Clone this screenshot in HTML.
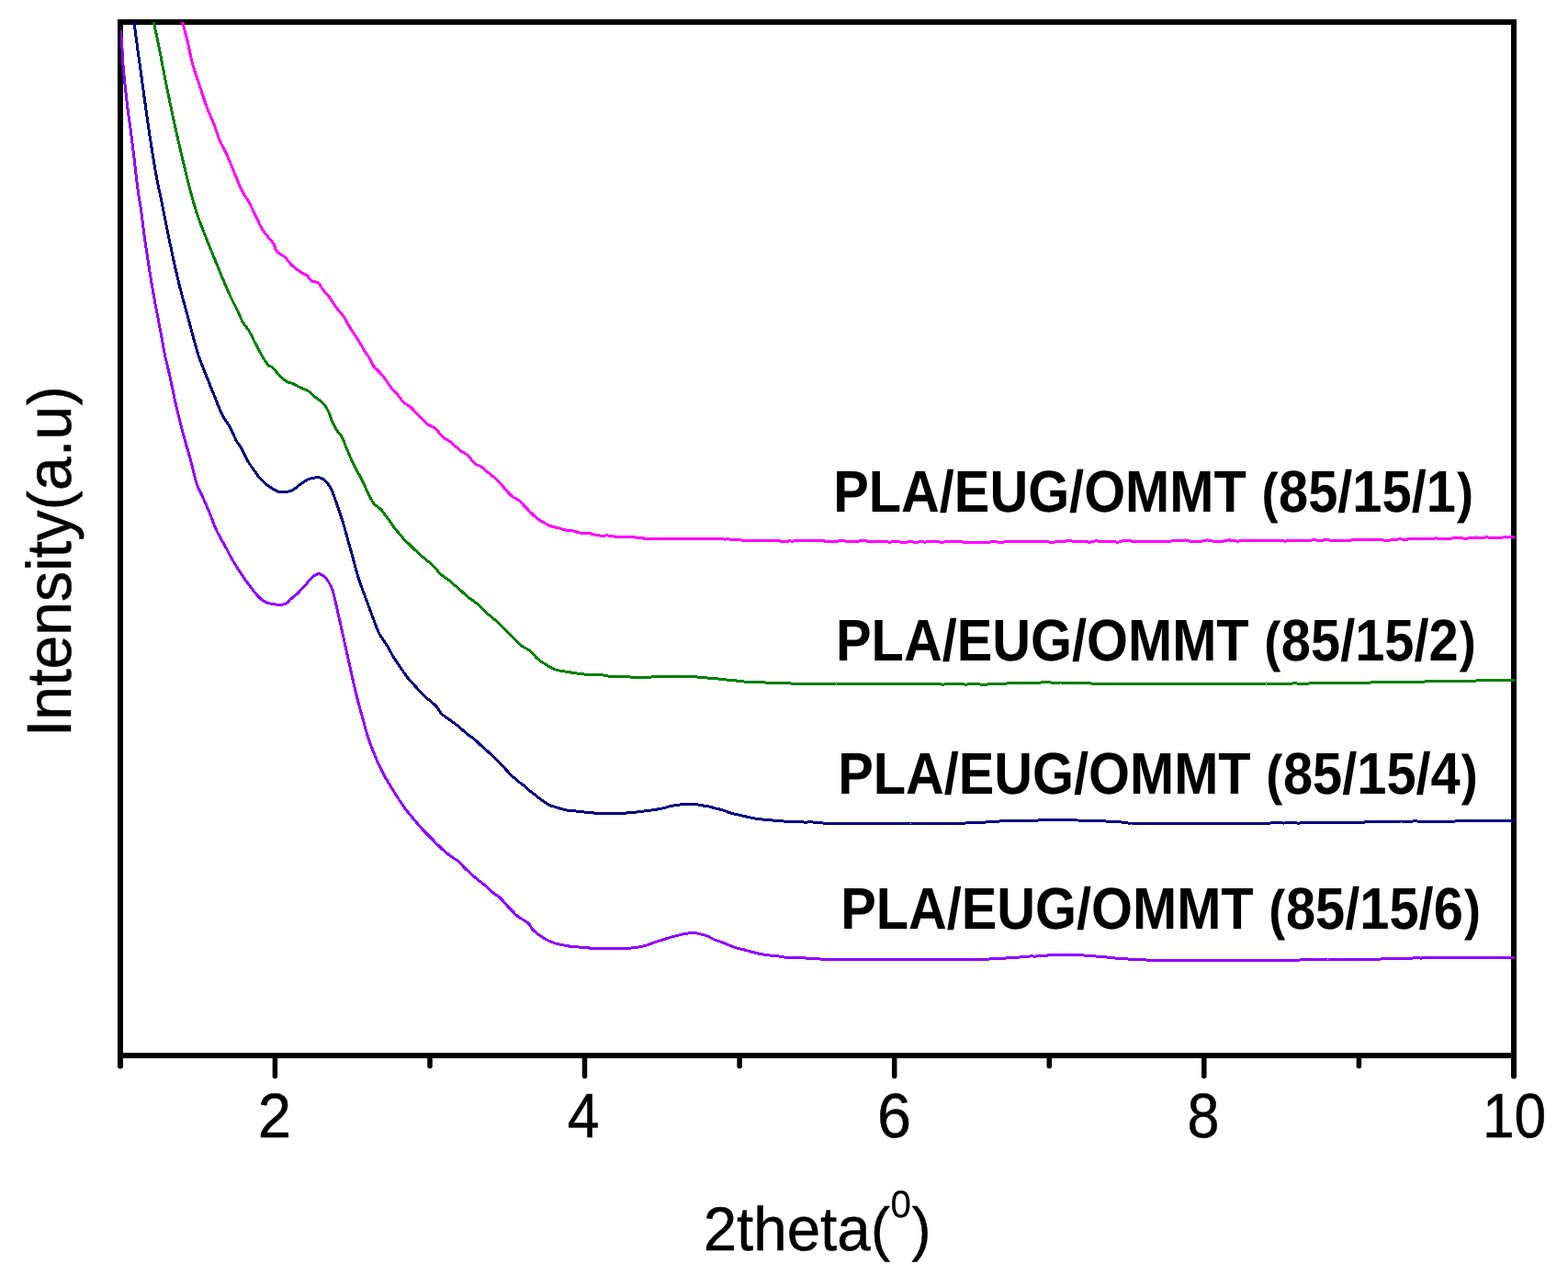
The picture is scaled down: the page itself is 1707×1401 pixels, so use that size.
<!DOCTYPE html>
<html lang="en">
<head>
<meta charset="utf-8">
<title>XRD patterns of PLA/EUG/OMMT</title>
<style>
html,body{margin:0;padding:0;background:#fff;}
body{width:1707px;height:1401px;overflow:hidden;}
svg{display:block;}
text{font-family:"Liberation Sans",sans-serif;fill:#000;font-kerning:none;text-rendering:geometricPrecision;stroke:#000;stroke-width:0.5px;stroke-linejoin:round;}
.axis text{font-size:68.4px;}
.axis text.ylab{font-size:68.4px;}
.axis text.xlab{font-size:67.4px;}
.legend text{font-size:64px;font-weight:bold;stroke-width:0px;}
.curves polyline{fill:none;stroke-width:3.0px;stroke-linejoin:round;}
</style>
</head>
<body>
<svg width="1707" height="1401" viewBox="0 0 1707 1401">
<rect x="0" y="0" width="1707" height="1401" fill="#ffffff"/>
<defs><clipPath id="plot"><rect x="131" y="24" width="1518" height="1125"/></clipPath></defs>
<g class="frame" fill="none" stroke="#000" stroke-width="6" shape-rendering="crispEdges">
<rect x="131" y="24" width="1517" height="1125"/>
</g>
<g class="ticks" stroke="#000" stroke-width="5.5" stroke-linecap="round">
<line x1="131" y1="1149" x2="131" y2="1160.4" stroke-width="6"/>
<line x1="299.4" y1="1149" x2="299.4" y2="1171.4"/>
<line x1="468.0" y1="1149" x2="468.0" y2="1160.4"/>
<line x1="636.5" y1="1149" x2="636.5" y2="1171.4"/>
<line x1="805.1" y1="1149" x2="805.1" y2="1160.4"/>
<line x1="973.7" y1="1149" x2="973.7" y2="1171.4"/>
<line x1="1142.3" y1="1149" x2="1142.3" y2="1160.4"/>
<line x1="1310.8" y1="1149" x2="1310.8" y2="1171.4"/>
<line x1="1479.4" y1="1149" x2="1479.4" y2="1160.4"/>
<line x1="1648" y1="1149" x2="1648" y2="1171.4" stroke-width="6"/>
</g>
<g class="curves" clip-path="url(#plot)" shape-rendering="crispEdges">
<polyline points="198.0,21.8 198.2,22.4 198.3,22.9 198.5,23.5 198.7,24.2 198.9,25.1 199.2,26.1 199.5,27.3 199.9,28.7 200.3,30.1 200.7,31.6 201.1,33.2 201.6,34.9 202.0,36.6 202.4,38.3 202.9,40.0 203.3,41.6 203.7,43.2 204.0,44.6 204.4,46.0 204.7,47.4 205.0,48.9 205.4,50.4 205.7,52.0 206.0,53.6 206.4,55.2 206.7,56.8 207.0,58.4 207.4,60.0 207.7,61.6 208.1,63.1 208.5,64.7 208.8,66.2 209.2,67.8 209.6,69.2 210.0,70.8 210.5,72.3 210.9,73.8 211.3,75.3 211.8,76.8 212.2,78.2 212.7,79.6 213.2,81.0 213.6,82.3 214.1,83.7 214.6,85.1 215.1,86.6 215.6,88.0 216.1,89.5 216.6,91.0 217.1,92.4 217.5,93.8 218.0,95.2 218.5,96.6 219.0,98.2 219.5,99.7 220.0,101.3 220.5,102.8 221.0,104.4 221.5,106.0 222.0,107.5 222.5,109.1 223.0,110.6 223.5,112.1 224.0,113.6 224.6,115.0 225.1,116.5 225.6,117.9 226.2,119.4 226.8,120.8 227.4,122.3 228.0,123.7 228.6,125.2 229.3,126.6 229.9,128.1 230.5,129.5 231.1,131.0 231.7,132.4 232.3,133.8 232.9,135.3 233.5,136.7 234.0,138.1 234.5,139.5 235.1,141.1 235.6,142.6 236.1,144.1 236.5,145.5 237.0,146.9 237.4,148.2 237.9,149.6 238.4,151.0 238.9,152.4 239.5,153.7 240.1,155.0 240.7,156.2 241.3,157.5 242.0,158.7 242.7,160.1 243.4,161.4 244.1,162.8 244.8,164.2 245.5,165.6 246.2,166.9 246.8,168.4 247.5,169.8 248.1,171.1 248.7,172.5 249.3,173.9 249.8,175.2 250.4,176.6 251.0,178.0 251.5,179.3 252.1,180.7 252.7,182.1 253.2,183.5 253.8,184.9 254.3,186.3 254.9,187.7 255.5,189.0 256.1,190.5 256.7,191.9 257.3,193.4 257.9,194.9 258.5,196.4 259.1,197.8 259.7,199.3 260.3,200.7 260.9,202.1 261.5,203.5 262.1,204.9 262.8,206.2 263.4,207.5 264.1,208.8 264.8,210.1 265.5,211.4 266.3,212.6 267.0,213.7 267.8,214.7 268.5,215.8 269.2,216.9 270.0,218.1 270.7,219.4 271.4,220.7 272.1,222.0 272.8,223.4 273.4,224.8 274.1,226.2 274.8,227.6 275.4,229.0 276.1,230.5 276.7,231.9 277.4,233.3 278.0,234.7 278.7,236.0 279.4,237.4 280.1,238.8 280.8,240.3 281.5,241.7 282.1,243.2 282.8,244.6 283.5,245.9 284.2,247.2 285.0,248.5 285.7,249.8 286.5,251.0 287.3,252.2 288.2,253.4 289.2,254.6 290.3,255.9 291.4,257.3 292.5,258.7 293.6,259.9 294.6,261.1 295.6,262.3 296.5,263.4 297.3,264.5 298.0,265.8 298.6,267.1 299.0,268.4 299.5,269.7 299.9,271.0 300.5,272.2 301.3,273.4 302.3,274.5 303.4,275.5 304.7,276.4 306.0,277.3 307.4,278.1 308.7,278.8 310.0,279.7 311.2,280.9 312.2,282.1 313.2,283.3 314.1,284.5 315.0,285.6 315.9,286.8 316.8,287.8 317.7,288.7 318.7,289.6 319.8,290.4 321.0,291.5 322.3,292.5 323.5,293.5 324.8,294.4 326.0,295.3 327.2,296.1 328.6,297.0 330.1,297.8 331.5,298.4 332.8,299.1 334.1,299.9 335.2,301.1 336.1,302.4 337.0,303.7 338.0,304.9 339.1,305.9 340.4,306.5 341.8,306.6 343.3,306.7 344.8,307.2 346.1,307.9 347.1,308.8 348.0,309.8 348.8,311.0 349.6,312.3 350.4,313.6 351.2,314.8 352.1,316.0 353.0,317.1 354.0,318.2 355.0,319.3 356.0,320.4 357.0,321.5 358.0,322.8 359.0,324.2 359.9,325.5 360.8,326.8 361.7,328.2 362.6,329.5 363.4,330.9 364.3,332.2 365.2,333.5 366.1,334.7 367.0,335.9 368.0,337.2 369.0,338.4 370.0,339.6 371.1,340.8 372.1,342.0 373.0,343.2 374.0,344.6 374.8,345.7 375.5,346.9 376.2,348.1 376.9,349.4 377.5,350.7 378.2,351.8 378.9,353.0 379.6,354.2 380.3,355.3 381.0,356.5 381.8,357.9 382.7,359.3 383.5,360.6 384.4,361.9 385.3,363.1 386.2,364.4 387.0,365.6 387.9,366.9 388.6,368.0 389.4,369.1 390.1,370.3 390.8,371.6 391.6,372.9 392.3,374.2 393.0,375.5 393.8,376.7 394.5,378.1 395.2,379.4 395.9,380.6 396.8,382.1 397.7,383.5 398.6,384.6 399.4,385.8 400.3,386.9 401.1,388.1 401.9,389.5 402.6,390.9 403.3,392.3 404.0,393.7 404.6,395.0 405.3,396.3 406.1,397.7 406.9,398.9 407.8,400.0 408.7,400.9 409.7,401.8 410.7,402.7 411.8,403.7 412.8,404.8 413.8,405.9 414.8,407.0 415.8,408.2 416.8,409.3 417.7,410.5 418.7,411.8 419.6,413.1 420.6,414.4 421.5,415.7 422.4,417.1 423.3,418.5 424.2,419.9 425.1,421.0 426.0,422.2 427.0,423.4 428.0,424.5 428.9,425.3 429.8,426.2 430.8,427.1 431.7,428.2 432.7,429.5 433.8,430.8 434.8,432.2 435.8,433.6 436.9,435.0 437.9,436.3 439.0,437.4 440.1,438.5 441.2,439.5 442.4,440.2 443.5,440.9 444.7,441.6 445.8,442.4 446.9,443.1 447.9,443.9 449.0,445.0 450.0,446.2 451.0,447.3 451.9,448.4 452.9,449.5 453.8,450.6 454.8,451.7 455.9,452.7 456.9,453.7 458.0,454.7 459.1,455.7 460.2,456.8 461.3,457.8 462.5,458.9 463.6,460.0 464.7,461.0 465.8,461.9 467.2,462.9 468.6,463.7 469.9,464.3 471.3,465.0 472.6,465.7 473.8,466.5 474.9,467.5 475.9,468.6 476.8,469.7 477.7,470.8 478.7,472.0 479.8,473.3 480.9,474.3 482.1,475.4 483.3,476.5 484.6,477.5 485.9,478.3 487.2,479.0 488.4,479.7 489.7,480.5 491.0,481.3 492.2,482.4 493.5,483.7 494.8,485.0 496.0,486.2 497.3,487.2 498.5,488.3 499.7,489.3 500.9,490.3 502.0,491.2 503.2,491.8 504.3,492.4 505.4,493.0 506.5,493.7 507.6,494.4 508.6,495.2 509.6,496.1 510.6,497.1 511.5,498.1 512.5,499.4 513.5,500.7 514.5,502.0 515.6,503.3 516.8,504.4 518.0,505.4 519.3,506.1 520.6,506.6 521.9,507.0 523.2,507.7 524.4,508.5 525.6,509.3 526.8,510.4 527.9,511.5 529.0,512.6 530.1,513.4 531.2,514.3 532.3,515.2 533.5,516.2 534.6,517.1 535.7,518.0 536.9,518.9 538.1,519.8 539.2,520.7 540.4,521.7 541.5,522.7 542.5,523.7 543.6,524.8 544.6,526.0 545.6,527.3 546.6,528.4 547.5,529.5 548.5,530.6 549.5,531.8 550.5,532.9 551.4,534.0 552.4,535.2 553.3,536.3 554.3,537.3 555.4,538.3 556.4,539.3 557.5,540.3 558.7,541.2 559.9,541.9 561.1,542.5 562.4,543.0 563.7,543.9 565.0,544.8 566.2,545.8 567.4,547.0 568.5,548.2 569.5,549.4 570.5,550.4 571.5,551.4 572.5,552.4 573.4,553.4 574.4,554.5 575.4,555.6 576.5,556.7 577.6,557.8 578.8,558.9 579.9,560.0 581.0,561.0 582.2,562.1 583.3,563.1 584.4,563.9 585.6,564.8 586.7,565.6 587.8,566.4 589.0,567.2 590.1,567.9 591.3,568.5 592.6,569.2 593.9,569.9 595.3,570.7 596.6,571.4 597.9,572.1 599.3,572.7 600.6,573.1 601.9,573.5 603.2,573.8 604.5,574.0 605.9,574.2 607.3,574.6 608.7,575.0 610.1,575.4 611.6,575.9 613.1,576.4 614.6,576.8 616.2,577.2 617.7,577.4 619.2,577.5 620.7,577.6 622.2,577.7 623.7,577.9 625.2,578.4 626.7,578.8 628.2,579.3 629.7,579.7 631.2,580.0 632.7,580.3 634.1,580.5 635.6,580.5 637.0,580.5 638.5,580.4 640.0,580.3 641.5,580.6 643.1,580.8 644.6,581.3 646.1,581.8 647.7,582.2 649.3,582.3 650.9,582.6 652.5,582.9 654.2,583.1 655.8,583.2 657.4,583.2 659.0,583.0 660.5,582.8 661.9,583.0 663.4,583.2 664.8,583.4 666.3,583.7 667.7,583.9 669.2,584.1 670.6,584.2 672.1,584.4 673.5,584.5 675.0,584.6 676.6,584.6 678.2,584.6 679.7,584.6 681.3,584.5 682.9,584.4 684.5,584.3 686.1,584.5 687.7,584.7 689.3,584.8 690.9,584.9 692.4,585.1 693.8,585.3 695.3,585.4 696.8,585.5 698.2,585.7 699.7,585.9 701.2,586.1 702.7,586.3 704.2,586.4 705.7,586.4 707.3,586.4 708.8,586.4 710.3,586.4 711.8,586.4 713.3,586.4 714.7,586.3 716.2,586.3 717.7,586.2 719.2,586.2 720.8,586.3 722.3,586.3 723.9,586.3 725.5,586.4 727.1,586.5 728.8,586.6 730.2,586.6 731.7,586.6 733.2,586.6 734.7,586.5 736.2,586.4 737.8,586.2 739.3,586.4 740.9,586.6 742.5,586.4 744.1,586.3 745.7,586.2 747.3,586.1 749.0,586.1 750.6,586.2 752.2,586.3 753.8,586.3 755.4,586.3 757.0,586.4 758.6,586.4 760.2,586.3 761.8,586.2 763.4,586.1 765.0,586.0 766.6,586.1 768.2,586.3 769.8,586.6 771.5,587.0 773.1,586.8 774.7,586.7 776.3,586.5 777.9,586.3 779.5,586.3 781.1,586.4 782.7,586.4 784.2,586.4 785.8,586.6 787.4,587.0 788.9,587.1 790.5,586.9 792.0,586.7 793.6,587.0 795.2,587.2 796.7,587.3 798.2,587.4 799.8,587.3 801.3,587.1 802.8,587.2 804.3,587.5 805.8,587.8 807.3,588.1 808.8,588.3 810.3,588.3 811.8,588.3 813.3,588.4 814.8,588.4 816.4,588.5 818.1,588.6 819.7,588.6 821.3,588.5 822.9,588.5 824.5,588.5 826.1,588.5 827.7,588.4 829.3,588.5 830.9,588.5 832.5,588.5 834.1,588.4 835.6,588.3 837.2,588.4 838.7,588.6 840.3,588.5 841.7,588.4 843.1,588.3 844.5,588.3 845.8,588.3 847.2,588.5 848.6,588.8 850.0,589.1 851.5,589.4 853.1,589.6 854.8,589.5 856.6,589.3 858.6,589.0 859.6,588.9 860.7,589.0 861.8,589.0 862.9,589.1 864.1,589.0 865.3,588.9 866.5,588.9 867.8,588.9 869.1,588.9 870.4,588.8 871.7,588.8 873.1,588.7 874.5,588.4 876.0,588.2 877.4,588.4 878.9,588.6 880.4,588.7 881.9,588.6 883.5,588.6 885.0,588.5 886.6,588.5 888.2,588.3 889.8,588.2 891.5,588.2 893.1,588.3 894.8,588.5 896.5,588.7 898.2,589.2 899.9,589.6 901.6,589.7 903.3,589.8 905.1,589.6 906.8,589.5 908.6,589.5 910.3,589.4 912.1,589.1 913.8,588.8 915.6,588.6 917.4,588.6 919.1,588.9 920.9,589.1 922.7,589.3 924.4,589.3 926.2,589.2 927.9,589.2 929.7,589.3 931.4,589.4 933.2,589.4 934.9,589.1 936.6,588.8 938.4,588.7 940.1,588.6 941.7,588.8 943.4,589.0 945.1,589.0 946.7,589.1 948.4,589.2 950.0,589.3 951.6,589.5 953.1,589.8 954.7,589.9 956.2,590.0 957.8,589.9 959.3,589.7 960.9,589.6 962.5,589.7 964.0,589.8 965.6,589.9 967.2,590.0 968.8,590.0 970.3,590.0 971.9,589.9 973.5,589.9 975.1,589.8 976.7,589.6 978.2,589.7 979.8,589.9 981.4,590.2 983.0,590.4 984.6,590.4 986.2,590.2 987.8,590.0 989.4,589.8 990.9,589.6 992.5,589.8 994.1,590.0 995.7,590.1 997.3,590.3 998.9,590.1 1000.5,590.0 1002.1,589.9 1003.7,589.8 1005.3,589.9 1006.9,590.1 1008.5,590.0 1010.1,589.7 1011.7,589.7 1013.3,589.8 1014.9,589.8 1016.5,589.8 1018.1,589.7 1019.7,589.6 1021.3,589.6 1022.9,590.0 1024.5,590.2 1026.1,590.2 1027.7,590.1 1029.3,589.9 1030.9,589.6 1032.5,589.8 1034.1,589.9 1035.7,589.9 1037.3,589.7 1038.9,589.5 1040.5,589.2 1042.1,589.2 1043.6,589.4 1045.2,589.6 1046.8,589.9 1048.4,590.1 1050.0,590.2 1051.6,590.3 1053.2,590.2 1054.8,590.2 1056.3,590.1 1057.9,590.1 1059.5,590.1 1061.1,590.1 1062.7,590.1 1064.2,590.1 1065.8,590.2 1067.4,590.4 1069.0,590.4 1070.6,590.3 1072.1,590.2 1073.7,590.2 1075.3,590.1 1076.9,590.1 1078.4,590.0 1080.0,589.8 1081.6,589.5 1083.2,589.6 1084.7,589.7 1086.3,590.0 1087.9,590.3 1089.5,590.3 1091.0,590.2 1092.6,590.1 1094.2,589.9 1095.8,589.8 1097.3,589.9 1098.9,589.8 1100.5,589.8 1102.1,589.7 1103.6,589.7 1105.2,589.7 1106.8,589.7 1108.4,589.6 1110.0,589.6 1111.6,589.6 1113.1,589.5 1114.7,589.4 1116.3,589.5 1117.9,589.8 1119.5,589.8 1121.1,589.6 1122.7,589.4 1124.3,589.1 1125.9,589.0 1127.5,589.2 1129.1,589.3 1130.7,589.4 1132.3,589.5 1133.9,589.4 1135.5,589.4 1137.1,589.3 1138.7,589.2 1140.3,589.5 1141.9,589.9 1143.5,590.3 1145.1,590.7 1146.8,590.4 1148.4,589.8 1150.0,589.5 1151.6,589.4 1153.1,589.4 1154.7,589.4 1156.3,589.4 1157.8,589.3 1159.4,589.2 1161.0,588.9 1162.5,588.6 1164.1,588.7 1165.7,588.8 1167.3,589.1 1168.9,589.4 1170.5,589.5 1172.1,589.6 1173.7,589.7 1175.3,589.8 1176.9,589.8 1178.5,589.5 1180.1,589.4 1181.7,589.6 1183.3,589.8 1184.9,590.1 1186.5,590.3 1188.1,589.7 1189.7,589.3 1191.3,589.1 1192.9,588.8 1194.5,589.0 1196.1,589.1 1197.7,589.2 1199.4,589.3 1201.0,589.4 1202.6,589.5 1204.2,589.5 1205.8,589.3 1207.4,589.2 1209.0,589.0 1210.6,589.1 1212.3,589.4 1213.9,589.7 1215.5,590.1 1217.1,590.2 1218.7,589.9 1220.3,589.5 1221.9,588.8 1223.5,588.3 1225.1,588.5 1226.7,588.6 1228.3,588.7 1229.9,588.8 1231.5,589.0 1233.1,589.2 1234.7,589.3 1236.3,589.3 1237.9,589.6 1239.5,589.8 1241.1,589.9 1242.7,589.8 1244.3,589.7 1245.9,589.6 1247.5,589.5 1249.0,589.3 1250.6,589.2 1252.2,589.1 1253.7,589.1 1255.3,589.2 1256.9,589.3 1258.4,589.4 1260.0,589.6 1261.6,589.5 1263.2,589.3 1264.9,589.2 1266.5,589.1 1268.1,589.2 1269.7,589.4 1271.3,589.4 1272.9,589.2 1274.5,589.1 1276.1,588.9 1277.7,588.8 1279.3,588.7 1280.9,588.5 1282.5,588.5 1284.1,588.5 1285.7,588.4 1287.3,588.2 1288.9,588.1 1290.5,587.9 1292.1,588.4 1293.7,588.9 1295.3,589.1 1296.9,589.2 1298.4,589.1 1300.0,589.1 1301.6,589.1 1303.2,589.2 1304.8,589.3 1306.4,589.2 1307.9,589.2 1309.5,588.9 1311.1,588.7 1312.7,588.3 1314.2,587.9 1315.8,588.2 1317.4,588.5 1319.0,588.8 1320.5,589.1 1322.1,589.4 1323.7,589.6 1325.3,589.8 1326.8,589.9 1328.4,589.8 1330.0,589.6 1331.6,589.3 1333.1,588.7 1334.7,588.2 1336.3,588.1 1337.9,587.9 1339.4,588.3 1341.0,588.7 1342.6,588.8 1344.2,588.9 1345.8,589.0 1347.3,589.1 1348.9,589.0 1350.5,588.9 1352.1,588.8 1353.7,588.7 1355.2,588.5 1356.8,588.4 1358.4,588.3 1360.0,588.4 1361.6,588.6 1363.2,588.6 1364.8,588.6 1366.3,588.7 1367.9,588.8 1369.5,588.8 1371.1,588.8 1372.7,588.8 1374.3,588.7 1375.9,588.7 1377.5,588.7 1379.0,588.7 1380.6,588.7 1382.2,588.8 1383.8,588.8 1385.4,588.9 1387.0,588.8 1388.6,588.8 1390.2,588.5 1391.7,588.3 1393.3,588.4 1394.9,588.4 1396.5,588.7 1398.1,589.0 1399.7,589.0 1401.3,588.8 1402.9,588.8 1404.4,588.8 1406.0,588.8 1407.6,588.7 1409.2,588.6 1410.8,588.3 1412.4,588.1 1414.0,588.1 1415.6,588.1 1417.1,588.2 1418.7,588.3 1420.3,588.4 1421.9,588.5 1423.5,588.5 1425.1,588.4 1426.7,588.2 1428.3,587.9 1429.8,587.8 1431.4,587.9 1433.0,588.0 1434.6,588.2 1436.2,588.4 1437.8,588.4 1439.4,588.4 1441.0,587.9 1442.5,587.6 1444.1,587.8 1445.7,587.9 1447.3,588.0 1448.9,588.0 1450.5,588.1 1452.1,588.1 1453.7,588.1 1455.2,588.0 1456.8,588.1 1458.4,588.2 1460.0,588.4 1461.6,588.5 1463.2,588.6 1464.8,588.4 1466.4,588.3 1468.0,588.2 1469.5,588.1 1471.1,588.0 1472.7,587.9 1474.3,587.8 1475.9,587.7 1477.5,587.7 1479.1,587.8 1480.7,587.8 1482.3,587.6 1483.9,587.5 1485.5,587.4 1487.1,587.4 1488.7,587.4 1490.3,587.5 1491.9,587.5 1493.5,587.6 1495.1,587.7 1496.7,587.7 1498.3,587.6 1499.9,587.5 1501.5,587.4 1503.1,587.4 1504.7,587.7 1506.3,588.0 1507.9,588.0 1509.5,588.0 1511.1,588.0 1512.7,588.0 1514.3,587.8 1515.9,587.7 1517.5,587.5 1519.1,587.2 1520.7,587.1 1522.3,587.0 1523.9,586.9 1525.5,587.0 1527.1,587.1 1528.6,587.2 1530.2,587.3 1531.8,587.1 1533.4,586.9 1535.0,586.6 1536.6,586.4 1538.1,586.4 1539.7,586.4 1541.3,586.4 1542.9,586.3 1544.4,586.3 1546.0,586.4 1547.6,586.4 1549.1,586.2 1550.7,586.1 1552.2,586.0 1553.8,586.0 1555.4,586.2 1556.9,586.4 1558.5,586.4 1560.0,586.3 1561.6,586.1 1563.2,585.9 1564.8,586.2 1566.5,586.6 1568.1,586.8 1569.7,587.0 1571.3,586.9 1572.9,586.4 1574.5,586.3 1576.1,586.5 1577.7,586.5 1579.3,586.3 1580.8,586.0 1582.4,585.9 1584.0,585.8 1585.6,585.8 1587.2,585.7 1588.8,585.7 1590.4,585.6 1591.9,585.8 1593.5,586.2 1595.1,586.2 1596.7,586.2 1598.2,586.0 1599.8,585.7 1601.4,585.5 1602.9,585.4 1604.5,585.3 1606.1,585.2 1607.6,585.0 1609.2,585.2 1610.8,585.4 1612.3,585.5 1613.9,585.6 1615.5,585.4 1617.0,585.0 1618.6,584.9 1620.2,585.0 1621.7,585.2 1623.3,585.4 1624.9,585.6 1626.4,585.7 1628.0,585.9 1629.6,585.9 1631.1,585.8 1632.7,585.5 1634.3,585.1 1635.8,585.0 1637.4,584.9 1639.0,584.9 1640.5,585.0 1642.1,585.0 1643.7,584.9 1645.3,584.9 1646.8,584.9 1648.4,585.0 1650.0,585.2" stroke="#ff00ff"/>
<polyline points="167.0,21.9 167.1,22.4 167.2,22.9 167.3,23.5 167.4,24.3 167.6,25.1 167.7,26.0 168.0,27.1 168.2,28.3 168.5,29.7 168.8,31.1 169.2,32.7 169.5,34.3 169.9,36.0 170.2,37.7 170.6,39.4 171.0,41.2 171.4,43.0 171.7,44.8 172.1,46.6 172.5,48.3 172.8,50.0 173.1,51.4 173.4,52.9 173.7,54.4 174.0,55.9 174.3,57.5 174.6,59.0 174.9,60.6 175.2,62.2 175.5,63.7 175.8,65.3 176.1,66.9 176.4,68.5 176.7,70.1 177.0,71.7 177.3,73.3 177.6,74.9 178.0,76.5 178.3,78.1 178.6,79.7 178.9,81.3 179.2,82.8 179.5,84.4 179.8,85.9 180.1,87.5 180.4,89.0 180.7,90.6 181.0,92.1 181.4,93.7 181.7,95.2 182.0,96.7 182.3,98.3 182.6,99.8 182.9,101.4 183.2,102.9 183.5,104.4 183.9,106.0 184.2,107.5 184.5,109.0 184.8,110.5 185.1,112.1 185.4,113.6 185.7,115.1 186.1,116.6 186.4,118.2 186.7,119.7 187.0,121.2 187.4,122.8 187.7,124.3 188.0,125.9 188.3,127.4 188.7,128.9 189.0,130.5 189.3,132.0 189.7,133.5 190.0,135.0 190.3,136.5 190.7,138.1 191.0,139.6 191.3,141.1 191.7,142.6 192.0,144.1 192.3,145.6 192.7,147.1 193.0,148.6 193.4,150.0 193.7,151.5 194.0,153.0 194.4,154.5 194.7,156.0 195.1,157.5 195.4,159.0 195.8,160.5 196.1,162.0 196.5,163.5 196.8,165.0 197.2,166.5 197.5,168.0 197.9,169.5 198.2,171.0 198.6,172.5 198.9,173.9 199.3,175.4 199.6,176.9 200.0,178.4 200.3,179.9 200.7,181.3 201.1,182.9 201.5,184.5 201.8,186.1 202.2,187.6 202.6,189.2 203.0,190.7 203.3,192.3 203.7,193.9 204.1,195.4 204.5,197.0 204.9,198.5 205.2,200.0 205.6,201.6 206.0,203.1 206.4,204.6 206.8,206.1 207.2,207.6 207.6,209.1 208.0,210.6 208.4,212.2 208.9,213.7 209.3,215.2 209.7,216.7 210.1,218.2 210.5,219.7 210.9,221.2 211.4,222.7 211.8,224.1 212.3,225.6 212.7,227.1 213.2,228.6 213.6,230.1 214.1,231.5 214.6,233.0 215.1,234.4 215.6,235.9 216.1,237.3 216.6,238.8 217.1,240.2 217.6,241.7 218.2,243.1 218.7,244.5 219.3,245.9 219.8,247.3 220.4,248.7 220.9,250.1 221.5,251.5 222.0,252.9 222.5,254.3 223.1,255.7 223.6,257.0 224.2,258.5 224.8,260.0 225.3,261.5 225.9,263.0 226.5,264.4 227.1,265.8 227.6,267.2 228.2,268.6 228.8,270.0 229.4,271.4 229.9,272.8 230.5,274.1 231.0,275.5 231.6,276.9 232.2,278.3 232.8,279.8 233.4,281.2 234.0,282.7 234.6,284.1 235.1,285.6 235.7,287.0 236.3,288.4 236.9,289.8 237.4,291.2 238.0,292.6 238.5,293.9 239.1,295.3 239.6,296.7 240.2,298.0 240.7,299.3 241.3,300.6 241.8,301.8 242.3,303.2 242.9,304.5 243.5,305.9 244.1,307.3 244.7,308.7 245.3,310.1 245.9,311.6 246.6,313.1 247.2,314.6 247.9,316.0 248.5,317.5 249.2,319.0 249.8,320.5 250.5,321.9 251.2,323.4 251.9,324.8 252.6,326.2 253.3,327.6 254.0,329.0 254.7,330.5 255.4,331.9 256.1,333.2 256.8,334.6 257.5,336.0 258.1,337.3 258.8,338.7 259.4,340.0 260.0,341.4 260.6,342.8 261.2,344.2 261.8,345.6 262.4,346.9 263.1,348.3 263.7,349.6 264.4,350.8 265.2,352.2 266.1,353.5 267.0,354.7 267.9,355.8 268.8,357.0 269.7,358.2 270.6,359.4 271.4,360.8 272.1,362.1 272.9,363.4 273.6,364.8 274.3,366.2 275.0,367.7 275.6,369.1 276.3,370.5 277.0,371.9 277.7,373.3 278.4,374.6 279.1,375.9 279.8,377.2 280.4,378.5 281.1,379.8 281.8,381.1 282.5,382.3 283.2,383.6 283.9,384.9 284.6,386.2 285.3,387.5 286.1,388.9 287.0,390.3 287.9,391.8 288.8,393.2 289.7,394.6 290.6,395.8 291.4,396.8 292.3,397.6 293.3,398.3 294.3,398.7 295.3,399.1 296.3,399.7 297.2,400.5 298.2,401.6 299.2,402.7 300.1,404.0 301.2,405.2 302.2,406.4 303.3,407.5 304.3,408.6 305.4,409.7 306.5,410.8 307.7,411.9 308.8,412.9 309.9,413.9 311.1,414.7 312.2,415.4 313.6,416.0 315.0,416.5 316.4,416.8 317.8,417.2 319.2,417.8 320.5,418.4 321.8,419.2 323.2,420.0 324.5,420.7 325.9,421.4 327.2,422.0 328.5,422.6 329.8,423.1 331.2,423.6 332.5,424.2 333.8,424.8 335.1,425.4 336.3,426.2 337.4,427.1 338.6,428.0 339.7,429.1 340.8,430.1 342.0,431.2 343.1,432.2 344.3,433.2 345.4,434.0 346.6,434.9 347.8,435.7 349.0,436.5 350.1,437.4 351.1,438.3 352.1,439.4 353.0,440.5 353.9,441.7 354.8,443.0 355.6,444.4 356.4,445.7 357.1,447.1 357.8,448.5 358.3,449.9 358.9,451.4 359.4,452.8 359.9,454.3 360.4,455.8 361.0,457.2 361.6,458.7 362.3,460.1 363.0,461.6 363.7,463.1 364.4,464.5 365.2,465.9 366.0,467.3 366.8,468.5 367.7,469.7 368.6,470.8 369.5,471.9 370.4,473.0 371.2,474.2 372.0,475.5 372.6,476.7 373.2,477.9 373.8,479.2 374.3,480.5 374.9,481.9 375.4,483.2 375.9,484.6 376.4,485.9 377.0,487.3 377.6,488.7 378.1,490.0 378.7,491.4 379.3,492.8 379.9,494.3 380.5,495.7 381.1,497.1 381.7,498.4 382.3,499.8 382.9,501.1 383.5,502.4 384.2,503.8 384.9,505.1 385.5,506.4 386.2,507.7 386.9,509.0 387.5,510.3 388.2,511.7 388.9,513.0 389.6,514.4 390.4,515.9 391.2,517.2 391.9,518.6 392.7,520.0 393.4,521.4 394.2,522.8 394.9,524.2 395.6,525.6 396.2,527.0 396.9,528.5 397.5,529.9 398.2,531.4 398.8,532.9 399.5,534.3 400.2,535.7 400.9,537.1 401.6,538.5 402.3,540.0 403.1,541.4 403.8,542.8 404.6,544.2 405.3,545.5 406.1,546.8 406.9,548.0 407.8,549.0 408.9,550.1 410.1,551.0 411.3,551.8 412.5,552.7 413.7,553.7 414.8,554.8 415.8,555.9 416.8,557.2 417.7,558.4 418.6,559.6 419.6,560.9 420.5,562.2 421.5,563.5 422.3,564.6 423.1,565.7 424.0,566.8 424.8,568.0 425.6,569.3 426.5,570.5 427.3,571.8 428.2,573.0 429.1,574.2 430.0,575.3 430.9,576.5 431.9,577.7 432.9,578.9 433.9,580.1 434.9,581.3 435.9,582.5 436.9,583.7 437.9,584.8 438.9,586.0 439.9,587.1 440.9,588.2 442.0,589.2 443.0,590.2 444.1,591.2 445.1,592.2 446.2,593.3 447.3,594.4 448.4,595.5 449.5,596.5 450.5,597.5 451.6,598.5 452.7,599.5 453.7,600.4 454.8,601.4 455.9,602.4 457.1,603.4 458.2,604.4 459.2,605.4 460.3,606.3 461.4,607.2 462.6,608.2 463.8,609.3 465.0,610.3 466.2,611.2 467.3,612.2 468.5,613.2 469.6,614.1 470.7,615.0 471.8,616.0 472.9,617.1 473.9,618.2 474.9,619.4 475.8,620.6 476.8,621.8 477.7,622.9 478.7,624.0 479.8,625.1 480.9,626.1 482.1,627.0 483.2,627.9 484.4,628.8 485.7,629.7 486.9,630.5 488.1,631.3 489.3,632.2 490.4,633.1 491.6,634.1 492.8,635.1 493.9,636.1 495.1,637.2 496.3,638.2 497.4,639.2 498.6,640.3 499.7,641.2 500.8,642.1 501.9,643.1 503.1,644.1 504.2,645.1 505.3,646.2 506.4,647.1 507.4,648.1 508.5,649.0 509.6,650.0 510.8,650.9 511.9,651.8 513.0,652.5 514.2,653.3 515.3,654.0 516.4,654.8 517.6,655.7 518.7,656.6 519.8,657.5 520.9,658.5 522.0,659.5 523.1,660.5 524.2,661.6 525.4,662.7 526.5,663.8 527.6,664.9 528.7,666.0 529.9,667.1 531.0,668.2 532.2,669.2 533.4,670.2 534.5,671.2 535.6,672.0 536.6,672.9 537.5,673.7 538.7,674.7 539.7,675.5 540.7,676.4 541.9,677.5 542.8,678.4 543.9,679.4 545.0,680.5 546.1,681.7 547.3,683.0 548.4,684.2 549.6,685.4 550.8,686.5 551.9,687.6 553.0,688.6 554.1,689.7 555.3,690.9 556.4,692.0 557.6,693.2 558.7,694.3 559.8,695.3 560.8,696.3 561.8,697.3 562.9,698.3 563.8,699.3 564.8,700.2 565.7,701.2 566.7,702.1 567.8,703.0 569.0,703.9 570.2,704.7 571.5,705.3 572.9,706.0 574.2,706.6 575.5,707.4 576.8,708.2 578.0,709.2 579.1,710.3 580.2,711.5 581.3,712.8 582.4,714.1 583.4,715.3 584.6,716.5 585.7,717.5 586.9,718.5 588.2,719.5 589.4,720.3 590.7,721.2 592.0,722.0 593.3,722.9 594.7,723.7 596.0,724.5 597.3,725.3 598.7,726.1 600.1,726.8 601.5,727.5 602.9,728.1 604.3,728.7 605.7,729.3 607.1,729.6 608.5,729.9 609.9,730.1 611.3,730.3 612.7,730.6 614.1,730.8 615.6,731.2 617.0,731.4 618.5,731.7 620.0,731.9 621.5,732.0 623.0,732.2 624.6,732.5 626.1,732.7 627.6,733.0 629.1,733.2 630.5,733.4 632.0,733.6 633.4,733.8 634.9,733.9 636.4,734.1 637.9,734.3 639.5,734.4 640.9,734.5 642.3,734.5 643.8,734.5 645.4,734.5 646.9,734.4 648.5,734.5 650.0,734.6 651.5,734.7 652.9,734.8 654.2,734.9 655.5,734.9 656.9,735.0 658.2,735.3 659.4,735.5 660.7,735.8 662.0,736.0 663.4,736.2 664.6,736.3 666.0,736.4 667.4,736.4 668.8,736.5 670.3,736.5 671.8,736.6 673.3,736.7 674.9,736.8 676.4,736.9 677.9,736.9 679.4,736.9 681.0,736.9 682.6,736.9 684.2,736.9 685.8,737.0 687.4,737.1 688.9,737.2 690.5,737.3 692.1,737.4 693.7,737.5 695.3,737.5 696.9,737.5 698.5,737.4 700.0,737.4 701.6,737.4 703.2,737.4 704.8,737.3 706.4,737.2 708.0,737.1 709.6,736.9 711.2,736.8 712.7,736.8 714.2,736.8 715.7,736.7 717.2,736.6 718.7,736.4 720.3,736.3 721.8,736.3 723.3,736.3 724.8,736.4 726.3,736.5 727.8,736.7 729.2,736.5 730.8,736.3 732.4,736.2 734.0,736.1 735.5,736.2 737.0,736.3 738.5,736.4 740.0,736.6 741.6,736.7 743.1,736.6 744.7,736.6 746.2,736.6 747.8,736.6 749.3,736.5 750.9,736.5 752.4,736.5 754.0,736.6 755.5,736.7 757.1,736.9 758.6,737.0 760.2,737.1 761.7,737.2 763.3,737.3 764.8,737.4 766.4,737.6 767.9,737.8 769.5,737.9 771.0,738.1 772.5,738.2 774.1,738.3 775.6,738.4 777.2,738.5 778.7,738.7 780.3,738.8 781.8,739.0 783.4,739.1 784.9,739.3 786.5,739.5 788.0,739.7 789.6,739.9 791.1,740.0 792.7,740.1 794.2,740.3 795.8,740.4 797.3,740.5 798.9,740.6 800.4,740.8 802.0,741.1 803.5,741.4 805.1,741.7 806.6,741.8 808.2,741.9 809.7,742.0 811.3,742.2 812.8,742.3 814.4,742.4 815.9,742.5 817.5,742.5 819.1,742.6 820.7,742.6 822.2,742.6 823.8,742.6 825.3,742.6 826.8,742.6 828.3,742.7 829.8,742.8 831.2,742.9 832.6,743.0 834.1,743.1 835.5,743.2 837.1,743.2 838.7,743.3 840.0,743.3 841.3,743.4 842.6,743.5 843.9,743.6 845.3,743.7 846.7,743.8 848.1,743.9 849.6,743.9 851.2,743.9 852.9,743.9 854.6,743.8 856.6,743.8 858.6,743.9 859.6,743.9 860.6,744.0 861.7,744.0 862.8,744.0 863.9,744.1 865.0,744.1 866.2,744.2 867.4,744.2 868.7,744.3 870.0,744.3 871.3,744.2 872.6,744.1 873.9,744.1 875.3,744.1 876.7,744.0 878.1,744.0 879.6,744.0 881.1,744.0 882.5,744.0 884.1,744.1 885.6,744.1 887.1,744.2 888.7,744.3 890.3,744.4 891.9,744.3 893.5,744.3 895.2,744.3 896.8,744.3 898.5,744.4 900.2,744.4 901.9,744.3 903.6,744.2 905.3,744.3 907.0,744.4 908.8,744.4 910.5,744.5 912.3,744.4 914.0,744.4 915.8,744.3 917.6,744.3 919.3,744.3 921.1,744.3 922.9,744.3 924.7,744.3 926.5,744.3 928.3,744.2 930.1,744.0 931.9,744.1 933.7,744.2 935.5,744.3 937.3,744.3 939.0,744.2 940.8,744.2 942.6,744.1 944.4,744.1 946.2,744.2 947.9,744.2 949.7,744.3 951.4,744.4 953.2,744.5 954.9,744.6 956.6,744.6 958.3,744.5 960.0,744.4 961.5,744.3 963.0,744.2 964.6,744.2 966.2,744.2 967.8,744.3 969.4,744.3 971.0,744.4 972.7,744.5 974.4,744.6 976.1,744.7 977.8,744.7 979.6,744.7 981.4,744.7 983.1,744.8 984.9,744.9 986.8,744.9 988.6,744.8 990.4,744.7 992.3,744.6 994.1,744.5 996.0,744.5 997.9,744.5 999.8,744.5 1001.6,744.6 1003.5,744.7 1005.4,744.8 1007.4,744.8 1009.3,744.9 1011.2,744.9 1013.1,744.8 1015.0,744.7 1016.9,744.6 1018.8,744.6 1020.7,744.8 1022.7,744.9 1024.6,745.0 1026.5,745.0 1028.3,745.0 1030.2,744.8 1032.1,744.7 1034.0,744.7 1035.8,744.7 1037.7,744.8 1039.5,744.7 1041.3,744.7 1043.1,744.6 1044.9,744.6 1046.7,744.7 1048.5,744.8 1050.2,745.0 1051.9,745.1 1053.6,745.0 1055.3,744.8 1057.0,744.8 1058.6,744.7 1060.3,744.7 1061.9,744.8 1063.4,744.9 1065.0,744.9 1066.5,745.0 1068.0,745.1 1069.5,745.1 1070.9,745.1 1072.3,745.0 1073.7,745.0 1075.0,745.0 1076.3,744.9 1077.6,744.9 1078.8,744.8 1080.0,744.8 1081.2,744.7 1082.3,744.7 1083.4,744.6 1084.5,744.6 1085.5,744.5 1086.5,744.5 1087.4,744.5 1088.3,744.4 1089.1,744.5 1089.9,744.5 1090.6,744.6 1091.3,744.6 1092.0,744.6 1093.8,744.4 1095.1,744.2 1096.1,744.0 1097.1,743.9 1098.3,743.8 1100.0,743.6 1100.8,743.5 1101.7,743.4 1102.7,743.4 1103.7,743.3 1104.9,743.3 1106.1,743.3 1107.4,743.2 1108.7,743.1 1110.2,743.1 1111.7,743.0 1113.2,743.0 1114.8,743.1 1116.5,743.1 1118.2,743.2 1119.9,743.2 1121.7,743.2 1123.5,743.2 1125.4,743.2 1127.3,743.2 1129.2,743.2 1131.1,743.1 1133.1,743.0 1135.0,742.9 1137.0,742.8 1139.0,742.7 1141.0,742.8 1143.0,742.9 1145.0,743.1 1147.0,743.1 1148.9,743.1 1150.9,743.1 1152.8,743.1 1154.7,743.0 1156.6,743.0 1158.5,743.0 1160.3,743.1 1162.1,743.3 1163.8,743.3 1165.5,743.3 1167.2,743.3 1168.8,743.4 1170.3,743.4 1171.8,743.4 1173.3,743.3 1174.6,743.2 1175.9,743.2 1177.1,743.2 1178.3,743.1 1179.3,743.1 1180.3,743.2 1181.2,743.2 1182.0,743.3 1183.7,743.5 1185.0,743.5 1186.0,743.7 1187.1,743.8 1188.3,744.0 1190.0,744.2 1190.8,744.3 1191.7,744.5 1192.7,744.6 1193.7,744.7 1194.7,744.7 1195.8,744.8 1197.0,744.8 1198.2,744.8 1199.4,744.8 1200.7,744.8 1202.1,744.8 1203.4,744.7 1204.9,744.7 1206.3,744.7 1207.8,744.8 1209.3,744.8 1210.9,744.8 1212.5,744.8 1214.1,744.7 1215.8,744.7 1217.5,744.7 1219.2,744.7 1220.9,744.6 1222.7,744.4 1224.4,744.5 1226.2,744.6 1228.0,744.6 1229.9,744.6 1231.7,744.6 1233.6,744.7 1235.4,744.7 1237.3,744.7 1239.2,744.5 1241.1,744.5 1243.0,744.6 1244.9,744.6 1246.8,744.6 1248.7,744.5 1250.6,744.4 1252.5,744.3 1254.4,744.3 1256.3,744.3 1258.1,744.2 1260.0,744.1 1261.3,744.1 1262.7,744.2 1264.0,744.3 1265.4,744.3 1266.8,744.4 1268.2,744.3 1269.6,744.3 1271.0,744.3 1272.4,744.2 1273.9,744.2 1275.4,744.2 1276.8,744.3 1278.3,744.4 1279.8,744.6 1281.3,744.6 1282.8,744.6 1284.4,744.6 1285.9,744.5 1287.5,744.4 1289.0,744.3 1290.6,744.3 1292.2,744.3 1293.8,744.4 1295.4,744.4 1297.0,744.4 1298.6,744.3 1300.2,744.3 1301.8,744.3 1303.4,744.3 1305.1,744.4 1306.7,744.5 1308.4,744.5 1310.0,744.5 1311.7,744.4 1313.3,744.2 1315.0,744.2 1316.7,744.4 1318.4,744.4 1320.0,744.5 1321.7,744.5 1323.4,744.5 1325.1,744.5 1326.8,744.5 1328.5,744.5 1330.2,744.5 1331.9,744.5 1333.5,744.5 1335.2,744.4 1336.9,744.2 1338.6,744.2 1340.3,744.4 1342.0,744.5 1343.7,744.4 1345.4,744.3 1347.1,744.1 1348.8,744.0 1350.5,744.0 1352.2,744.0 1353.9,744.2 1355.5,744.3 1357.2,744.3 1358.9,744.3 1360.6,744.4 1362.2,744.4 1363.9,744.4 1365.5,744.4 1367.2,744.4 1368.8,744.4 1370.5,744.4 1372.1,744.5 1373.7,744.4 1375.3,744.4 1376.9,744.4 1378.5,744.5 1380.1,744.5 1381.7,744.5 1383.3,744.4 1384.9,744.4 1386.4,744.4 1388.0,744.4 1389.5,744.4 1391.0,744.4 1392.6,744.3 1394.1,744.2 1395.6,744.1 1397.1,744.1 1398.5,744.1 1400.0,744.1 1401.7,744.1 1403.4,744.1 1405.1,744.0 1406.8,744.0 1408.5,743.9 1410.2,743.9 1411.9,744.0 1413.6,744.0 1415.3,744.1 1416.9,744.1 1418.6,744.2 1420.3,744.2 1421.9,744.2 1423.6,744.1 1425.2,744.0 1426.9,743.9 1428.5,743.9 1430.1,743.8 1431.7,743.8 1433.4,743.8 1435.0,743.8 1436.6,743.8 1438.2,743.7 1439.8,743.6 1441.4,743.6 1443.0,743.6 1444.6,743.7 1446.2,743.8 1447.8,743.9 1449.4,743.9 1451.0,743.9 1452.5,743.8 1454.1,743.7 1455.7,743.5 1457.2,743.6 1458.8,743.6 1460.4,743.7 1461.9,743.7 1463.5,743.7 1465.0,743.6 1466.6,743.6 1468.1,743.5 1469.7,743.5 1471.2,743.5 1472.7,743.4 1474.3,743.5 1475.8,743.5 1477.3,743.6 1478.8,743.6 1480.4,743.6 1481.9,743.6 1483.4,743.6 1484.9,743.5 1486.4,743.4 1488.0,743.3 1489.5,743.2 1491.0,743.1 1492.5,743.0 1494.0,742.9 1495.5,742.9 1497.0,742.9 1498.5,742.9 1500.0,742.9 1501.7,742.8 1503.3,742.8 1504.9,742.8 1506.6,742.8 1508.2,742.8 1509.9,742.9 1511.5,742.8 1513.1,742.7 1514.7,742.7 1516.3,742.7 1517.9,742.6 1519.6,742.5 1521.2,742.6 1522.8,742.6 1524.3,742.7 1525.9,742.7 1527.5,742.7 1529.1,742.5 1530.7,742.5 1532.3,742.4 1533.8,742.4 1535.4,742.4 1537.0,742.4 1538.5,742.4 1540.1,742.3 1541.7,742.3 1543.2,742.3 1544.8,742.2 1546.3,742.1 1547.9,742.1 1549.4,742.0 1551.0,742.0 1552.5,741.9 1554.1,741.9 1555.6,741.8 1557.1,741.8 1558.7,741.7 1560.2,741.7 1561.7,741.8 1563.3,741.8 1564.8,741.8 1566.3,741.8 1567.8,741.7 1569.4,741.8 1570.9,741.8 1572.4,741.7 1573.9,741.7 1575.4,741.6 1577.0,741.5 1578.5,741.5 1580.0,741.5 1581.6,741.5 1583.3,741.4 1584.9,741.4 1586.5,741.4 1588.2,741.5 1589.8,741.5 1591.4,741.4 1593.0,741.3 1594.6,741.1 1596.2,741.0 1597.8,741.0 1599.4,741.0 1601.0,741.0 1602.6,741.2 1604.2,741.3 1605.8,741.1 1607.4,741.0 1609.0,740.9 1610.6,740.8 1612.1,740.8 1613.7,740.8 1615.3,740.8 1616.9,740.8 1618.4,740.7 1620.0,740.7 1621.6,740.6 1623.2,740.5 1624.7,740.4 1626.3,740.3 1627.9,740.2 1629.5,740.2 1631.0,740.2 1632.6,740.2 1634.2,740.2 1635.8,740.1 1637.3,740.1 1638.9,740.0 1640.5,740.0 1642.1,740.0 1643.7,740.1 1645.2,740.1 1646.8,740.2 1648.4,740.2 1650.0,740.2" stroke="#008000"/>
<polyline points="145.5,22.2 145.6,22.7 145.7,23.2 145.8,23.8 145.9,24.6 146.0,25.3 146.1,26.3 146.3,27.3 146.5,28.5 146.7,29.9 146.8,31.3 147.1,32.8 147.3,34.5 147.5,36.1 147.7,37.9 148.0,39.7 148.2,41.5 148.5,43.3 148.7,45.1 149.0,47.0 149.2,48.8 149.4,50.5 149.7,52.2 149.9,53.9 150.1,55.4 150.3,56.9 150.5,58.4 150.7,59.9 150.9,61.4 151.2,63.0 151.4,64.5 151.6,66.1 151.8,67.6 152.0,69.2 152.3,70.8 152.5,72.4 152.7,74.0 152.9,75.5 153.1,77.1 153.4,78.7 153.6,80.3 153.8,81.9 154.0,83.5 154.2,85.1 154.5,86.6 154.7,88.2 154.9,89.8 155.1,91.3 155.3,92.9 155.5,94.5 155.8,96.0 156.0,97.6 156.2,99.2 156.4,100.7 156.6,102.3 156.8,103.9 157.0,105.4 157.2,107.0 157.4,108.6 157.7,110.1 157.9,111.7 158.1,113.3 158.3,114.8 158.5,116.4 158.7,117.9 158.9,119.5 159.1,121.0 159.4,122.5 159.6,124.1 159.8,125.6 160.0,127.2 160.2,128.7 160.5,130.3 160.7,131.8 160.9,133.4 161.1,134.9 161.4,136.5 161.6,138.0 161.8,139.6 162.0,141.1 162.3,142.7 162.5,144.2 162.7,145.7 162.9,147.3 163.2,148.8 163.4,150.3 163.6,151.9 163.9,153.4 164.1,154.9 164.3,156.4 164.6,157.9 164.8,159.4 165.1,161.0 165.3,162.6 165.6,164.2 165.8,165.8 166.1,167.4 166.3,169.0 166.6,170.6 166.8,172.2 167.1,173.8 167.4,175.3 167.6,176.9 167.9,178.5 168.1,180.0 168.4,181.6 168.7,183.2 169.0,184.7 169.2,186.3 169.5,187.8 169.8,189.4 170.1,190.9 170.4,192.4 170.6,193.9 170.9,195.4 171.2,196.9 171.5,198.4 171.8,199.9 172.1,201.3 172.4,202.8 172.7,204.3 173.0,205.8 173.4,207.3 173.7,208.7 174.0,210.2 174.3,211.7 174.6,213.2 174.9,214.7 175.2,216.1 175.5,217.6 175.8,219.1 176.1,220.6 176.4,222.1 176.7,223.6 177.0,225.1 177.3,226.6 177.6,228.1 177.9,229.6 178.2,231.1 178.5,232.6 178.8,234.1 179.1,235.6 179.4,237.1 179.7,238.6 180.0,240.0 180.3,241.5 180.6,243.0 180.9,244.5 181.2,246.0 181.5,247.5 181.8,248.9 182.1,250.6 182.5,252.2 182.8,253.8 183.1,255.4 183.4,257.0 183.8,258.6 184.1,260.3 184.5,261.9 184.8,263.5 185.1,265.1 185.4,266.6 185.8,268.2 186.1,269.7 186.4,271.2 186.8,272.7 187.1,274.2 187.4,275.7 187.7,277.1 188.0,278.7 188.4,280.3 188.7,281.8 189.0,283.4 189.4,284.9 189.7,286.4 190.0,287.9 190.3,289.4 190.7,290.8 191.0,292.3 191.3,293.8 191.6,295.2 192.0,296.6 192.3,298.1 192.7,299.6 193.0,301.1 193.4,302.6 193.7,304.1 194.1,305.5 194.4,307.0 194.8,308.4 195.1,309.9 195.5,311.4 195.9,313.0 196.3,314.5 196.7,316.2 197.1,317.6 197.4,319.0 197.8,320.5 198.2,322.0 198.6,323.5 199.0,325.0 199.5,326.6 199.9,328.1 200.3,329.7 200.7,331.2 201.2,332.8 201.6,334.3 202.0,335.9 202.4,337.4 202.9,339.0 203.3,340.5 203.7,342.0 204.1,343.5 204.5,345.1 204.9,346.6 205.3,348.1 205.7,349.7 206.2,351.2 206.6,352.8 207.0,354.3 207.4,355.9 207.8,357.4 208.2,358.9 208.6,360.5 209.0,361.9 209.4,363.4 209.8,364.9 210.2,366.3 210.6,367.8 211.0,369.3 211.4,370.8 211.9,372.3 212.3,373.8 212.7,375.3 213.1,376.8 213.5,378.3 213.9,379.8 214.3,381.2 214.7,382.7 215.2,384.2 215.6,385.6 216.1,387.1 216.6,388.6 217.1,390.0 217.6,391.4 218.1,392.8 218.7,394.2 219.2,395.7 219.8,397.1 220.4,398.6 221.0,400.1 221.6,401.6 222.1,403.0 222.7,404.5 223.3,406.0 223.9,407.4 224.5,408.8 225.0,410.3 225.6,411.7 226.2,413.1 226.8,414.5 227.3,416.0 227.9,417.4 228.4,418.8 229.0,420.2 229.6,421.6 230.1,423.0 230.7,424.4 231.2,425.8 231.8,427.1 232.4,428.5 232.9,429.9 233.5,431.3 234.1,432.8 234.7,434.2 235.3,435.7 235.9,437.2 236.5,438.7 237.0,440.2 237.6,441.7 238.2,443.2 238.9,444.7 239.5,446.1 240.1,447.6 240.8,449.1 241.5,450.5 242.2,451.9 243.0,453.3 243.7,454.6 244.5,455.9 245.3,457.3 246.2,458.5 247.0,459.8 247.8,461.0 248.6,462.3 249.4,463.5 250.1,464.7 250.8,466.0 251.5,467.2 252.3,468.7 253.0,470.2 253.6,471.7 254.3,473.2 254.9,474.7 255.5,476.1 256.2,477.5 256.8,478.8 257.5,480.1 258.3,481.4 259.2,482.7 260.0,483.9 260.9,485.2 261.7,486.4 262.6,487.7 263.4,489.1 264.1,490.3 264.7,491.6 265.4,493.0 266.0,494.3 266.7,495.7 267.3,497.1 268.0,498.5 268.7,499.9 269.4,501.3 270.2,502.6 271.0,504.0 271.9,505.3 272.8,506.7 273.7,508.0 274.6,509.3 275.6,510.6 276.5,511.9 277.4,513.2 278.4,514.5 279.3,515.8 280.2,517.0 281.2,518.3 282.2,519.5 283.2,520.7 284.2,522.0 285.3,523.2 286.5,524.3 287.7,525.5 288.9,526.6 290.2,527.6 291.5,528.5 292.8,529.4 294.1,530.3 295.3,531.1 296.6,531.9 298.0,532.7 299.3,533.4 300.6,534.1 301.9,534.7 303.3,535.2 304.9,535.5 306.4,535.7 308.0,535.8 309.6,535.7 311.2,535.6 312.5,535.4 313.9,535.1 315.2,534.8 316.6,534.3 317.9,533.7 319.2,533.0 320.4,532.3 321.5,531.5 322.7,530.6 323.8,529.6 324.9,528.7 326.1,527.8 327.2,527.0 328.5,526.1 329.8,525.2 331.0,524.3 332.3,523.5 333.7,522.7 335.1,522.0 336.5,521.5 337.9,521.0 339.4,520.7 340.9,520.3 342.3,520.1 343.8,519.9 345.1,519.8 346.6,519.9 348.1,520.0 349.4,520.4 350.8,521.0 352.1,521.8 353.2,522.6 354.2,523.6 355.3,524.7 356.3,525.9 357.2,527.2 358.1,528.5 359.0,529.8 359.7,531.0 360.4,532.3 361.1,533.7 361.7,535.1 362.3,536.5 362.8,538.0 363.4,539.5 364.0,541.0 364.5,542.4 365.0,543.8 365.5,545.2 366.0,546.7 366.5,548.2 367.0,549.7 367.5,551.1 368.0,552.6 368.5,554.0 369.0,555.5 369.5,556.9 370.0,558.3 370.5,559.8 370.9,561.3 371.4,562.8 371.9,564.2 372.4,565.7 372.9,567.3 373.4,568.8 373.8,570.3 374.3,571.8 374.7,573.3 375.2,574.8 375.6,576.3 376.0,577.8 376.4,579.3 376.8,580.8 377.2,582.4 377.7,583.9 378.1,585.4 378.5,586.9 378.9,588.4 379.3,589.9 379.7,591.3 380.1,592.8 380.6,594.3 381.0,595.8 381.4,597.3 381.8,598.8 382.2,600.3 382.6,601.7 383.1,603.2 383.5,604.7 383.9,606.2 384.3,607.7 384.7,609.2 385.1,610.7 385.5,612.2 385.9,613.6 386.3,615.1 386.7,616.6 387.1,618.1 387.5,619.6 387.9,621.1 388.3,622.7 388.8,624.2 389.2,625.7 389.7,627.2 390.1,628.7 390.6,630.2 391.1,631.7 391.6,633.2 392.1,634.7 392.6,636.2 393.1,637.7 393.7,639.2 394.2,640.6 394.7,642.1 395.2,643.5 395.7,644.9 396.3,646.3 396.8,647.7 397.4,649.2 397.9,650.6 398.5,652.0 399.0,653.5 399.6,654.9 400.1,656.4 400.7,657.8 401.2,659.3 401.7,660.8 402.3,662.3 402.8,663.9 403.4,665.4 403.9,666.9 404.5,668.4 405.0,669.8 405.6,671.3 406.1,672.8 406.7,674.2 407.2,675.6 407.7,677.0 408.2,678.4 408.7,679.7 409.2,681.1 409.7,682.4 410.2,683.8 410.8,685.1 411.3,686.4 411.9,687.7 412.5,689.0 413.1,690.3 413.8,691.5 414.6,692.8 415.3,694.0 416.2,695.2 417.0,696.3 417.8,697.5 418.7,698.6 419.5,699.8 420.3,701.0 421.1,702.2 421.8,703.5 422.6,704.8 423.3,706.1 424.0,707.4 424.7,708.7 425.5,710.1 426.2,711.4 426.9,712.7 427.6,714.0 428.4,715.3 429.1,716.5 430.0,717.8 430.8,719.2 431.7,720.5 432.6,721.8 433.5,723.2 434.4,724.5 435.3,725.7 436.2,727.0 437.1,728.3 438.0,729.5 438.8,730.7 439.7,732.0 440.5,733.2 441.4,734.5 442.2,735.7 443.1,736.9 444.1,738.1 445.0,739.3 445.9,740.4 446.9,741.4 447.9,742.4 448.9,743.6 449.9,744.7 450.9,745.8 451.9,746.9 453.0,748.0 454.0,749.1 455.0,750.2 456.1,751.4 457.2,752.5 458.3,753.7 459.4,754.9 460.5,756.0 461.6,757.1 462.7,758.1 463.8,759.2 464.9,760.2 466.0,761.1 467.2,762.0 468.3,763.0 469.5,764.0 470.7,765.0 471.8,766.0 472.9,766.9 473.9,767.9 474.9,768.9 475.9,770.1 476.7,771.3 477.5,772.5 478.3,773.7 479.1,775.0 480.0,776.1 480.9,777.2 481.9,778.2 483.0,779.0 484.1,779.7 485.2,780.5 486.4,781.3 487.6,782.1 488.8,783.0 490.0,783.8 491.2,784.8 492.5,785.7 493.8,786.7 495.1,787.7 496.3,788.7 497.6,789.6 498.8,790.6 499.9,791.5 501.0,792.4 502.1,793.3 503.2,794.3 504.2,795.2 505.3,796.2 506.4,797.1 507.5,798.1 508.7,799.1 509.9,800.0 511.2,800.9 512.5,801.8 513.7,802.7 515.0,803.7 516.3,804.7 517.5,805.8 518.6,806.7 519.7,807.8 520.8,808.8 521.9,809.9 522.9,810.9 524.0,811.8 525.1,812.8 526.3,813.8 527.4,814.8 528.5,815.7 529.5,816.7 530.7,817.7 531.8,818.7 532.9,819.8 534.1,820.9 535.2,822.0 536.3,822.9 537.4,823.8 538.4,824.7 539.4,825.6 540.5,826.7 541.5,827.7 542.5,828.8 543.5,829.8 544.4,830.8 545.4,831.8 546.3,832.8 547.3,833.8 548.3,834.9 549.3,836.0 550.3,837.2 551.3,838.3 552.3,839.4 553.3,840.5 554.3,841.7 555.3,842.7 556.4,843.8 557.6,844.8 558.7,845.8 559.9,846.8 561.0,847.8 562.2,848.7 563.3,849.7 564.5,850.8 565.7,851.8 566.9,852.6 568.0,853.3 569.1,854.1 570.2,854.9 571.3,855.8 572.2,856.7 573.1,857.7 574.1,858.7 575.2,859.7 576.2,860.5 577.4,861.4 578.5,862.2 579.7,863.1 580.9,864.0 582.1,864.9 583.2,865.8 584.4,866.8 585.6,867.8 586.8,868.8 587.9,869.7 589.2,870.7 590.4,871.5 591.7,872.4 593.0,873.2 594.3,874.1 595.7,875.0 597.1,875.8 598.4,876.5 599.8,877.1 601.3,877.6 602.7,878.0 604.2,878.4 605.7,878.9 607.1,879.3 608.5,879.7 609.9,880.1 611.3,880.6 612.7,881.0 614.2,881.4 615.6,881.7 617.1,882.0 618.5,882.1 620.0,882.3 621.4,882.4 622.9,882.5 624.4,882.7 625.9,882.9 627.4,883.0 629.0,883.2 630.5,883.3 632.0,883.5 633.6,883.7 635.2,883.9 636.9,884.1 638.5,884.3 640.1,884.4 641.7,884.5 643.3,884.6 644.9,884.8 646.5,885.0 648.1,885.2 649.6,885.4 651.2,885.5 652.7,885.5 654.3,885.5 655.8,885.5 657.4,885.5 658.9,885.7 660.4,885.7 662.0,885.6 663.5,885.4 665.1,885.3 666.6,885.1 668.2,885.0 669.7,885.0 671.3,885.0 672.8,885.1 674.4,885.1 675.9,885.2 677.5,885.3 679.1,885.3 680.7,885.2 682.2,885.0 683.8,884.8 685.3,884.8 686.8,884.8 688.3,884.6 689.9,884.4 691.3,884.2 692.8,884.0 694.3,883.8 695.8,883.6 697.2,883.5 698.7,883.3 700.1,883.1 701.6,883.0 703.0,882.8 704.4,882.7 705.8,882.5 707.2,882.3 708.6,882.1 710.0,881.9 711.5,881.7 712.9,881.5 714.3,881.3 715.7,881.0 717.1,880.8 718.5,880.5 719.9,880.2 721.3,879.9 722.8,879.6 724.2,879.2 725.6,878.8 727.0,878.3 728.5,877.9 729.9,877.5 731.3,877.3 732.7,877.1 734.1,876.9 735.5,876.7 737.0,876.4 738.4,876.2 739.8,876.0 741.2,875.7 742.7,875.6 744.1,875.6 745.5,875.6 746.9,875.7 748.4,875.8 749.8,875.8 751.2,875.9 752.7,875.8 754.1,875.8 755.5,875.8 757.0,875.8 758.4,875.8 759.8,876.0 761.2,876.2 762.6,876.4 764.1,876.7 765.5,877.0 766.9,877.2 768.3,877.4 769.7,877.6 771.1,877.8 772.6,878.1 774.0,878.6 775.4,879.0 776.9,879.5 778.3,879.9 779.7,880.2 781.1,880.5 782.5,880.8 783.9,881.1 785.4,881.4 786.8,881.9 788.2,882.3 789.6,882.8 791.0,883.3 792.5,883.9 793.9,884.5 795.3,885.0 796.7,885.4 798.2,885.8 799.6,886.2 801.0,886.4 802.5,886.7 803.9,887.0 805.3,887.3 806.7,887.6 808.2,888.0 809.6,888.3 811.0,888.7 812.4,889.0 813.8,889.3 815.2,889.6 816.6,889.9 818.0,890.2 819.5,890.5 820.9,890.8 822.4,891.1 823.9,891.4 825.4,891.7 826.9,891.8 828.4,891.9 829.9,892.0 831.5,892.2 833.0,892.4 834.5,892.5 836.1,892.7 837.6,892.8 839.2,892.9 840.7,893.0 842.3,893.0 843.8,893.1 845.4,893.3 846.9,893.4 848.5,893.5 850.0,893.7 851.5,893.8 853.0,894.0 854.5,894.1 856.1,894.2 857.7,894.3 859.4,894.3 860.8,894.4 862.3,894.6 863.9,894.6 865.5,894.6 867.1,894.7 868.7,894.7 870.4,894.8 872.0,894.9 873.6,894.9 875.1,895.0 876.6,895.0 878.0,895.0 879.3,895.0 880.9,894.9 882.3,894.8 883.6,894.9 884.9,895.0 886.2,895.2 887.6,895.4 889.2,895.6 890.5,895.7 891.9,895.7 893.3,895.7 894.7,895.8 896.2,896.0 897.7,896.2 899.3,896.3 900.9,896.4 902.5,896.4 904.2,896.3 905.8,896.3 907.5,896.3 909.2,896.4 910.6,896.5 912.1,896.5 913.5,896.6 915.0,896.5 916.5,896.5 918.0,896.5 919.6,896.5 921.1,896.5 922.7,896.4 924.2,896.4 925.8,896.3 927.4,896.3 929.1,896.3 930.7,896.3 932.3,896.3 934.0,896.3 935.7,896.4 937.3,896.4 939.0,896.4 940.5,896.4 942.0,896.4 943.5,896.3 945.0,896.4 946.5,896.4 948.1,896.5 949.6,896.5 951.2,896.5 952.7,896.4 954.3,896.4 955.9,896.5 957.5,896.5 959.1,896.4 960.7,896.4 962.3,896.4 963.9,896.3 965.6,896.4 967.2,896.4 968.9,896.4 970.5,896.4 972.2,896.4 973.8,896.4 975.5,896.3 977.2,896.1 978.9,896.1 980.4,896.2 981.9,896.1 983.5,896.1 985.1,896.2 986.7,896.3 988.3,896.3 989.9,896.4 991.5,896.5 993.2,896.5 994.8,896.6 996.5,896.6 998.1,896.6 999.8,896.6 1001.5,896.4 1003.1,896.3 1004.8,896.2 1006.5,896.3 1008.1,896.5 1009.8,896.7 1011.4,896.9 1013.1,896.9 1014.7,896.9 1016.3,896.8 1017.9,896.7 1019.5,896.6 1021.1,896.6 1022.6,896.7 1024.1,896.8 1025.6,896.6 1027.1,896.5 1028.6,896.5 1030.0,896.5 1031.8,896.5 1033.5,896.5 1035.2,896.5 1036.9,896.5 1038.6,896.4 1040.2,896.3 1041.8,896.2 1043.4,896.2 1045.0,896.2 1046.6,896.2 1048.1,896.2 1049.7,896.1 1051.2,896.0 1052.7,895.8 1054.3,895.7 1055.8,895.7 1057.3,895.7 1058.8,895.7 1060.4,895.6 1061.9,895.6 1063.5,895.5 1065.1,895.4 1066.6,895.3 1068.2,895.2 1069.8,895.1 1071.3,895.1 1072.8,895.0 1074.4,894.8 1075.9,894.7 1077.4,894.5 1079.0,894.4 1080.5,894.4 1082.0,894.3 1083.6,894.3 1085.1,894.2 1086.7,894.1 1088.2,894.0 1089.8,893.8 1091.4,893.7 1092.9,893.7 1094.5,893.7 1096.1,893.7 1097.7,893.8 1099.3,893.9 1100.9,893.9 1102.5,893.9 1104.1,893.9 1105.7,893.8 1107.3,893.8 1108.9,893.8 1110.5,893.8 1112.1,893.9 1113.6,893.9 1115.1,893.9 1116.6,893.9 1118.1,893.9 1119.6,893.8 1121.3,893.7 1122.9,893.5 1124.6,893.4 1126.2,893.3 1127.8,893.2 1129.4,893.1 1131.0,892.9 1132.5,892.8 1134.0,892.8 1135.6,892.7 1137.1,892.7 1138.6,892.6 1140.1,892.6 1141.6,892.6 1143.1,892.6 1144.6,892.6 1146.1,892.5 1147.5,892.5 1149.0,892.4 1150.4,892.3 1151.8,892.2 1153.3,892.2 1154.7,892.2 1156.3,892.2 1157.9,892.2 1159.5,892.3 1160.9,892.4 1162.3,892.4 1163.8,892.5 1165.4,892.5 1166.9,892.6 1168.5,892.6 1170.1,892.7 1171.7,892.9 1173.4,893.0 1175.0,893.1 1176.7,893.2 1178.3,893.2 1179.9,893.2 1181.6,893.3 1183.2,893.3 1184.8,893.3 1186.4,893.3 1187.9,893.4 1189.4,893.5 1191.1,893.6 1192.7,893.7 1194.4,893.7 1196.0,893.6 1197.6,893.6 1199.3,893.7 1200.9,893.8 1202.4,893.9 1204.0,894.0 1205.6,894.2 1207.2,894.3 1208.7,894.3 1210.2,894.4 1211.8,894.4 1213.3,894.4 1214.9,894.4 1216.4,894.5 1217.9,894.6 1219.4,894.7 1220.8,894.9 1222.3,895.2 1223.7,895.4 1225.2,895.7 1226.7,895.9 1228.2,896.0 1229.8,896.1 1231.5,896.0 1233.2,896.0 1234.5,896.1 1235.9,896.2 1237.3,896.2 1238.7,896.2 1240.1,896.2 1241.5,896.1 1242.9,896.0 1244.4,896.1 1245.9,896.1 1247.4,896.2 1248.9,896.3 1250.5,896.4 1252.0,896.4 1253.6,896.4 1255.2,896.4 1256.9,896.3 1258.5,896.3 1260.2,896.2 1261.9,896.2 1263.7,896.2 1265.4,896.2 1267.2,896.2 1269.0,896.1 1270.3,896.1 1271.7,896.1 1273.0,896.1 1274.4,896.1 1275.8,896.2 1277.2,896.2 1278.6,896.3 1280.1,896.3 1281.6,896.4 1283.0,896.5 1284.5,896.5 1286.0,896.4 1287.6,896.4 1289.1,896.5 1290.6,896.5 1292.2,896.5 1293.8,896.5 1295.3,896.5 1296.9,896.5 1298.5,896.5 1300.1,896.4 1301.8,896.3 1303.4,896.3 1305.0,896.3 1306.7,896.4 1308.3,896.5 1310.0,896.6 1311.6,896.6 1313.3,896.6 1314.9,896.6 1316.6,896.7 1318.3,896.7 1320.0,896.7 1321.6,896.7 1323.3,896.7 1325.0,896.7 1326.7,896.7 1328.3,896.6 1330.0,896.6 1331.7,896.6 1333.4,896.6 1335.0,896.7 1336.7,896.7 1338.3,896.7 1340.0,896.8 1341.5,896.8 1343.1,896.7 1344.6,896.6 1346.2,896.6 1347.8,896.6 1349.4,896.6 1351.0,896.5 1352.6,896.6 1354.3,896.7 1355.9,896.7 1357.6,896.7 1359.3,896.6 1360.9,896.5 1362.6,896.4 1364.3,896.2 1366.0,896.2 1367.7,896.1 1369.4,896.2 1371.1,896.3 1372.8,896.4 1374.6,896.4 1376.3,896.4 1378.0,896.4 1379.7,896.2 1381.4,896.0 1383.1,896.0 1384.8,895.9 1386.5,895.9 1388.2,895.8 1389.9,895.8 1391.5,895.8 1393.2,895.9 1394.8,895.9 1396.5,896.0 1398.1,896.0 1399.7,895.9 1401.3,895.8 1402.9,895.8 1404.5,895.7 1406.1,895.7 1407.6,895.7 1409.1,895.8 1410.6,895.9 1412.1,896.0 1413.6,896.0 1415.0,896.0 1416.5,895.9 1417.9,895.7 1419.2,895.5 1420.6,895.5 1421.9,895.5 1423.2,895.5 1424.5,895.6 1425.7,895.6 1427.6,895.7 1429.3,895.7 1431.1,895.8 1432.7,895.8 1434.4,895.8 1436.0,895.7 1437.5,895.6 1439.0,895.5 1440.5,895.6 1442.0,895.6 1443.4,895.6 1444.8,895.5 1446.2,895.5 1447.7,895.5 1449.1,895.5 1450.5,895.5 1451.9,895.5 1453.4,895.6 1454.9,895.6 1456.4,895.6 1457.9,895.8 1459.5,895.8 1461.0,895.7 1462.5,895.7 1464.0,895.5 1465.6,895.4 1467.1,895.3 1468.5,895.3 1470.0,895.3 1471.5,895.4 1473.1,895.4 1474.6,895.3 1476.1,895.2 1477.6,895.1 1479.2,895.1 1480.7,895.1 1482.3,895.0 1483.9,895.0 1485.5,895.0 1487.1,894.9 1488.8,894.8 1490.5,894.7 1492.2,894.6 1494.0,894.4 1495.7,894.3 1497.5,894.2 1499.4,894.1 1500.7,894.2 1502.1,894.2 1503.5,894.3 1504.9,894.3 1506.4,894.3 1507.9,894.3 1509.4,894.2 1510.9,894.2 1512.4,894.2 1514.0,894.1 1515.6,894.1 1517.2,894.2 1518.8,894.3 1520.5,894.4 1522.1,894.2 1523.8,894.1 1525.5,894.0 1527.2,894.0 1528.9,894.0 1530.6,894.0 1532.3,894.1 1534.0,894.1 1535.7,894.1 1537.5,894.1 1539.2,893.9 1540.9,893.9 1542.7,894.0 1544.4,894.0 1546.1,894.0 1547.8,894.1 1549.5,894.1 1551.2,894.1 1552.9,894.2 1554.6,894.2 1556.3,894.2 1557.9,894.1 1559.6,894.1 1561.2,894.0 1562.8,894.1 1564.4,894.2 1566.0,894.3 1567.5,894.4 1569.0,894.4 1570.5,894.3 1572.0,894.3 1573.5,894.2 1574.9,894.2 1576.3,894.1 1577.7,894.1 1579.0,894.1 1580.9,894.1 1582.7,894.1 1584.5,894.0 1586.2,893.9 1587.9,893.8 1589.6,893.8 1591.3,893.8 1593.0,893.8 1594.6,893.9 1596.2,893.9 1597.8,893.9 1599.3,893.9 1600.9,893.9 1602.4,893.9 1604.0,893.8 1605.5,893.8 1607.0,893.8 1608.5,893.8 1610.0,893.8 1611.5,893.7 1612.9,893.8 1614.4,893.8 1615.9,893.8 1617.4,893.7 1618.9,893.6 1620.5,893.5 1622.2,893.5 1623.8,893.4 1625.4,893.4 1626.9,893.5 1628.5,893.5 1630.1,893.6 1631.6,893.6 1633.2,893.6 1634.7,893.7 1636.2,893.6 1637.7,893.5 1639.3,893.4 1640.8,893.4 1642.3,893.4 1643.8,893.6 1645.4,893.7 1646.9,893.8 1648.4,893.9 1650.0,893.9" stroke="#000080"/>
<polyline points="131.5,33.0 131.6,34.3 131.7,35.6 131.8,36.9 131.9,38.2 132.0,39.6 132.1,40.9 132.2,42.1 132.3,43.5 132.5,44.9 132.6,46.5 132.7,47.7 132.7,48.9 132.8,50.2 132.9,51.5 133.0,52.9 133.0,54.4 133.1,55.9 133.2,57.5 133.3,59.1 133.3,60.8 133.4,62.5 133.5,64.1 133.7,65.9 133.8,67.6 133.9,69.3 134.0,70.6 134.1,72.0 134.2,73.4 134.4,74.9 134.5,76.4 134.6,77.9 134.8,79.4 134.9,81.0 135.1,82.6 135.2,84.2 135.4,85.8 135.5,87.4 135.7,89.0 135.9,90.6 136.0,92.3 136.2,93.9 136.4,95.5 136.5,97.2 136.7,98.8 136.9,100.4 137.1,101.9 137.2,103.5 137.4,105.0 137.6,106.5 137.7,108.0 137.9,109.5 138.1,111.2 138.3,112.8 138.5,114.5 138.7,116.1 138.9,117.7 139.1,119.3 139.3,120.9 139.6,122.5 139.8,124.0 140.0,125.6 140.2,127.1 140.4,128.7 140.6,130.3 140.8,131.8 141.1,133.4 141.3,134.9 141.5,136.5 141.7,138.1 141.9,139.6 142.1,141.1 142.3,142.6 142.5,144.1 142.7,145.6 142.9,147.1 143.1,148.6 143.2,150.1 143.4,151.6 143.6,153.2 143.8,154.7 144.0,156.2 144.2,157.7 144.4,159.2 144.6,160.7 144.8,162.3 145.0,163.8 145.1,165.3 145.3,166.9 145.5,168.4 145.7,170.0 145.9,171.5 146.1,173.0 146.3,174.6 146.4,176.1 146.6,177.7 146.8,179.2 147.0,180.8 147.2,182.4 147.3,184.0 147.5,185.5 147.7,187.1 147.9,188.7 148.0,190.3 148.2,191.8 148.4,193.4 148.6,194.9 148.8,196.5 149.0,198.0 149.1,199.5 149.3,201.0 149.5,202.5 149.7,204.0 149.9,205.4 150.1,207.0 150.4,208.6 150.6,210.2 150.8,211.7 151.1,213.2 151.3,214.8 151.5,216.2 151.8,217.7 152.0,219.2 152.3,220.7 152.5,222.2 152.7,223.6 153.0,225.1 153.2,226.6 153.4,228.2 153.7,229.7 153.9,231.3 154.1,232.8 154.3,234.3 154.5,235.8 154.7,237.4 154.9,238.9 155.1,240.5 155.3,242.1 155.5,243.6 155.7,245.2 155.9,246.8 156.1,248.4 156.3,250.0 156.5,251.6 156.7,253.2 156.9,254.8 157.1,256.4 157.4,258.0 157.6,259.7 157.8,261.3 158.0,262.8 158.2,264.4 158.5,265.9 158.7,267.4 158.9,269.0 159.1,270.6 159.4,272.1 159.6,273.7 159.8,275.3 160.1,276.8 160.3,278.4 160.5,280.0 160.8,281.5 161.0,283.1 161.2,284.7 161.5,286.2 161.7,287.8 162.0,289.4 162.2,291.0 162.5,292.5 162.7,294.1 163.0,295.7 163.2,297.3 163.5,298.9 163.7,300.5 164.0,302.1 164.3,303.6 164.5,305.2 164.8,306.8 165.0,308.4 165.3,310.0 165.6,311.5 165.9,313.1 166.1,314.7 166.4,316.3 166.7,317.9 167.0,319.5 167.2,321.1 167.5,322.7 167.8,324.3 168.1,325.8 168.3,327.3 168.6,328.7 168.9,330.2 169.2,331.7 169.5,333.2 169.7,334.7 170.0,336.2 170.3,337.7 170.6,339.2 170.9,340.7 171.2,342.2 171.5,343.7 171.8,345.2 172.1,346.7 172.4,348.2 172.6,349.7 172.9,351.2 173.2,352.7 173.5,354.2 173.8,355.7 174.1,357.2 174.4,358.8 174.7,360.3 174.9,361.8 175.2,363.3 175.5,364.9 175.8,366.4 176.1,368.0 176.3,369.5 176.6,371.1 176.9,372.6 177.2,374.1 177.5,375.7 177.8,377.2 178.0,378.7 178.3,380.2 178.6,381.7 178.9,383.2 179.2,384.6 179.5,386.1 179.8,387.5 180.1,389.1 180.5,390.7 180.8,392.3 181.2,393.8 181.5,395.3 181.9,396.8 182.2,398.3 182.6,399.8 182.9,401.2 183.3,402.7 183.6,404.2 184.0,405.6 184.3,407.1 184.7,408.6 185.0,410.1 185.4,411.7 185.7,413.2 186.0,414.8 186.4,416.3 186.7,417.9 187.0,419.4 187.3,421.0 187.7,422.5 188.0,424.1 188.3,425.6 188.6,427.2 188.9,428.8 189.3,430.4 189.6,431.9 189.9,433.5 190.3,435.1 190.6,436.8 191.0,438.4 191.3,440.0 191.7,441.6 192.0,443.1 192.4,444.6 192.8,446.1 193.1,447.6 193.5,449.1 193.9,450.6 194.2,452.1 194.6,453.6 195.0,455.1 195.4,456.7 195.8,458.2 196.2,459.7 196.5,461.3 196.9,462.8 197.3,464.3 197.7,465.8 198.1,467.3 198.5,468.8 198.9,470.3 199.3,471.8 199.7,473.3 200.1,474.8 200.5,476.4 200.9,477.9 201.4,479.4 201.8,480.9 202.2,482.3 202.6,483.8 203.0,485.3 203.5,486.7 203.9,488.2 204.3,489.7 204.7,491.1 205.1,492.6 205.6,494.0 206.0,495.5 206.4,496.9 206.8,498.4 207.2,499.8 207.6,501.3 208.0,502.8 208.4,504.3 208.8,505.9 209.2,507.4 209.5,509.0 209.9,510.5 210.3,512.1 210.6,513.6 211.0,515.2 211.4,516.7 211.8,518.2 212.1,519.7 212.5,521.1 212.9,522.6 213.3,524.0 213.7,525.3 214.2,526.6 214.6,527.9 215.2,529.4 215.8,530.9 216.4,532.3 217.0,533.7 217.7,535.1 218.3,536.4 219.0,537.7 219.6,539.0 220.3,540.3 220.9,541.6 221.5,543.0 222.1,544.3 222.7,545.7 223.3,547.0 223.8,548.3 224.4,549.7 225.0,551.0 225.6,552.4 226.1,553.7 226.7,555.1 227.3,556.5 227.9,557.9 228.4,559.2 229.0,560.6 229.5,562.0 230.1,563.4 230.6,564.8 231.2,566.2 231.7,567.6 232.3,569.1 232.9,570.5 233.4,572.0 234.0,573.5 234.6,574.9 235.3,576.3 235.9,577.7 236.6,579.1 237.3,580.6 238.1,582.0 238.8,583.4 239.6,584.8 240.4,586.3 241.2,587.7 242.0,589.1 242.8,590.5 243.6,591.9 244.3,593.2 245.1,594.6 245.8,595.9 246.6,597.3 247.3,598.7 248.0,600.1 248.7,601.4 249.4,602.8 250.1,604.1 250.9,605.4 251.6,606.7 252.3,608.0 253.0,609.4 253.8,610.7 254.6,612.1 255.4,613.4 256.1,614.7 257.0,616.0 257.8,617.3 258.6,618.5 259.4,619.8 260.2,621.1 261.0,622.4 261.9,623.7 262.7,624.9 263.6,626.2 264.5,627.5 265.4,628.8 266.3,630.1 267.2,631.4 268.1,632.6 269.0,633.8 269.9,635.1 270.8,636.3 271.7,637.6 272.6,638.8 273.5,639.9 274.3,641.1 275.2,642.2 276.1,643.4 277.0,644.5 277.9,645.6 278.8,646.7 279.7,647.7 280.8,648.9 281.9,650.0 283.0,651.1 284.1,652.2 285.3,653.1 286.4,653.9 287.6,654.7 288.9,655.4 290.2,655.9 291.5,656.3 292.9,656.7 294.2,657.1 295.6,657.5 296.9,657.7 298.3,657.9 299.6,658.0 301.0,658.0 302.3,658.0 303.6,658.0 305.0,658.0 306.5,658.0 307.9,658.0 309.3,657.9 310.6,657.6 311.8,656.9 313.0,656.0 314.1,654.9 315.2,653.7 316.3,652.4 317.5,651.4 318.6,650.4 319.8,649.5 320.9,648.6 322.1,647.6 323.2,646.7 324.4,645.6 325.5,644.4 326.5,643.3 327.6,642.2 328.6,641.1 329.6,640.0 330.6,638.9 331.6,637.8 332.5,636.7 333.5,635.7 334.5,634.5 335.4,633.4 336.4,632.2 337.3,631.0 338.3,630.0 339.1,629.0 340.0,628.2 340.9,627.5 341.8,626.9 342.7,626.5 343.6,626.0 344.4,625.5 345.2,624.9 346.0,624.5 346.8,624.3 347.7,624.5 348.5,624.8 349.4,625.4 350.3,625.9 351.2,626.4 352.2,627.0 353.1,627.7 354.0,628.6 354.9,629.6 355.8,630.7 356.7,632.0 357.6,633.4 358.4,634.7 359.0,635.9 359.7,637.1 360.3,638.4 360.8,639.7 361.4,641.0 361.9,642.3 362.4,643.7 362.8,645.0 363.2,646.4 363.6,647.8 363.9,649.3 364.3,650.8 364.6,652.3 364.9,653.9 365.3,655.5 365.6,656.8 365.9,658.3 366.3,659.7 366.6,661.2 366.9,662.7 367.3,664.2 367.6,665.8 367.9,667.3 368.3,668.9 368.6,670.4 369.0,671.9 369.3,673.4 369.6,674.9 370.0,676.4 370.3,677.9 370.6,679.4 371.0,680.9 371.3,682.3 371.6,683.8 372.0,685.3 372.3,686.8 372.6,688.3 373.0,689.8 373.3,691.2 373.6,692.7 374.0,694.2 374.3,695.7 374.6,697.2 375.0,698.8 375.3,700.3 375.6,701.8 376.0,703.3 376.3,704.8 376.6,706.3 377.0,707.8 377.3,709.3 377.6,710.8 378.0,712.3 378.3,713.8 378.6,715.4 379.0,716.9 379.3,718.4 379.6,719.9 380.0,721.4 380.3,722.9 380.6,724.4 381.0,725.9 381.3,727.4 381.6,728.8 382.0,730.3 382.3,731.8 382.6,733.2 382.9,734.7 383.3,736.2 383.6,737.7 383.9,739.1 384.3,740.6 384.6,742.1 384.9,743.7 385.3,745.2 385.7,746.7 386.0,748.2 386.4,749.8 386.7,751.3 387.1,752.9 387.5,754.4 387.9,756.0 388.3,757.5 388.6,759.1 389.0,760.6 389.4,762.1 389.8,763.6 390.2,765.1 390.6,766.6 391.0,768.2 391.4,769.7 391.8,771.2 392.3,772.7 392.7,774.2 393.1,775.7 393.5,777.2 393.9,778.7 394.4,780.2 394.8,781.7 395.2,783.2 395.6,784.7 396.0,786.2 396.4,787.7 396.8,789.2 397.2,790.7 397.6,792.2 398.0,793.7 398.4,795.2 398.9,796.6 399.3,798.1 399.7,799.5 400.2,801.0 400.7,802.3 401.1,803.7 401.6,805.1 402.1,806.5 402.5,807.8 403.0,809.2 403.5,810.5 404.0,811.9 404.5,813.3 405.1,814.7 405.6,816.2 406.2,817.7 406.8,819.1 407.3,820.5 407.9,821.9 408.5,823.4 409.1,824.8 409.7,826.3 410.4,827.7 411.0,829.2 411.7,830.7 412.3,832.1 413.0,833.5 413.6,834.9 414.3,836.2 414.9,837.6 415.6,839.0 416.3,840.4 417.0,841.7 417.7,843.1 418.4,844.4 419.1,845.6 419.9,846.9 420.6,848.2 421.3,849.4 422.1,850.7 422.8,851.9 423.6,853.2 424.4,854.5 425.2,855.9 426.0,857.2 426.8,858.6 427.7,859.9 428.5,861.2 429.3,862.6 430.2,863.8 431.0,865.1 431.8,866.4 432.7,867.8 433.6,869.2 434.4,870.6 435.3,871.9 436.2,873.2 437.1,874.5 438.0,875.9 438.9,877.2 439.8,878.5 440.7,879.8 441.7,881.1 442.7,882.3 443.6,883.5 444.6,884.7 445.6,885.9 446.6,887.1 447.7,888.3 448.7,889.6 449.7,890.7 450.6,891.9 451.6,893.1 452.6,894.3 453.6,895.5 454.6,896.7 455.7,898.0 456.7,899.2 457.7,900.4 458.7,901.5 459.7,902.6 460.8,903.8 461.9,904.9 463.0,906.0 464.1,907.1 465.2,908.1 466.3,909.2 467.4,910.3 468.5,911.4 469.6,912.6 470.7,913.7 471.8,914.9 472.9,916.0 474.0,917.2 475.1,918.3 476.2,919.4 477.4,920.5 478.5,921.6 479.6,922.7 480.7,923.7 481.8,924.7 482.9,925.7 484.0,926.7 485.1,927.6 486.3,928.6 487.4,929.5 488.5,930.4 489.6,931.2 490.9,932.2 492.2,933.0 493.4,933.9 494.7,934.8 496.0,935.5 497.3,936.3 498.5,937.2 499.7,938.2 500.8,939.3 501.9,940.5 503.0,941.7 504.1,942.9 505.2,944.2 506.3,945.3 507.5,946.4 508.6,947.3 509.7,948.3 510.8,949.3 511.9,950.3 513.0,951.4 514.1,952.4 515.3,953.5 516.4,954.4 517.5,955.4 518.7,956.4 520.0,957.4 521.2,958.4 522.5,959.4 523.7,960.4 525.0,961.3 526.2,962.3 527.4,963.4 528.6,964.4 529.7,965.5 530.8,966.5 532.0,967.6 533.1,968.6 534.2,969.6 535.3,970.5 536.4,971.5 537.5,972.4 538.7,973.3 539.8,974.0 540.9,974.7 542.1,975.5 543.2,976.3 544.3,977.3 545.3,978.2 546.3,979.3 547.3,980.4 548.3,981.5 549.3,982.7 550.3,983.9 551.3,985.1 552.3,986.2 553.3,987.3 554.4,988.4 555.4,989.5 556.5,990.6 557.6,991.7 558.7,992.8 559.8,993.9 560.9,995.1 562.1,996.2 563.3,997.3 564.5,998.3 565.9,999.3 567.3,1000.1 568.8,1000.9 570.2,1001.7 571.6,1002.5 573.0,1003.4 574.2,1004.3 575.3,1005.2 576.2,1006.1 577.2,1007.4 577.8,1008.6 578.4,1009.9 579.2,1011.2 580.1,1012.1 581.1,1013.1 582.3,1014.1 583.5,1015.1 584.7,1016.1 586.0,1017.1 587.2,1018.0 588.4,1018.8 589.6,1019.6 590.9,1020.4 592.1,1021.3 593.4,1022.1 594.7,1022.8 596.1,1023.5 597.4,1024.2 598.7,1024.8 600.1,1025.3 601.5,1025.8 602.9,1026.3 604.3,1026.7 605.7,1027.2 607.1,1027.5 608.6,1027.9 610.0,1028.2 611.5,1028.6 613.0,1028.9 614.5,1029.1 616.0,1029.3 617.5,1029.6 619.0,1029.9 620.5,1030.2 622.0,1030.5 623.5,1030.7 625.0,1030.8 626.5,1030.9 628.0,1030.9 629.5,1030.9 631.0,1031.1 632.5,1031.3 634.0,1031.4 635.5,1031.5 636.9,1031.7 638.4,1031.8 639.9,1031.8 641.4,1032.0 642.9,1032.2 644.4,1032.3 645.9,1032.5 647.4,1032.7 648.9,1032.8 650.4,1032.9 651.9,1032.9 653.4,1032.8 654.9,1032.9 656.4,1032.9 657.9,1032.8 659.3,1032.8 660.8,1032.7 662.3,1032.6 663.8,1032.5 665.3,1032.6 666.9,1032.8 668.4,1032.8 670.0,1032.8 671.6,1032.7 673.2,1032.6 674.9,1032.6 676.5,1032.6 678.1,1032.6 679.7,1032.5 681.3,1032.5 682.8,1032.4 684.4,1032.3 685.9,1032.1 687.4,1032.0 688.9,1031.9 690.3,1031.7 691.8,1031.5 693.2,1031.2 694.7,1031.0 696.2,1030.8 697.7,1030.6 699.2,1030.2 700.7,1029.9 702.2,1029.5 703.7,1029.1 705.2,1028.6 706.7,1028.0 708.2,1027.4 709.6,1026.9 711.1,1026.4 712.6,1025.8 714.1,1025.3 715.6,1024.8 717.1,1024.4 718.5,1023.9 719.9,1023.5 721.4,1023.0 722.9,1022.5 724.3,1022.1 725.7,1021.6 727.1,1021.2 728.5,1020.8 729.9,1020.4 731.3,1020.0 732.7,1019.6 734.1,1019.2 735.5,1018.9 737.0,1018.5 738.4,1018.1 739.8,1017.7 741.2,1017.4 742.7,1017.1 744.2,1016.8 745.7,1016.5 747.1,1016.3 748.5,1016.1 749.8,1015.9 751.4,1015.8 752.8,1015.5 754.3,1015.4 755.8,1015.4 757.1,1015.5 758.4,1015.8 759.7,1016.1 761.0,1016.5 762.4,1016.8 763.7,1017.1 765.0,1017.5 766.4,1017.9 767.7,1018.3 769.1,1018.7 770.4,1019.2 771.7,1019.7 773.0,1020.4 774.3,1021.1 775.6,1021.8 777.0,1022.5 778.3,1023.1 779.7,1023.6 781.0,1024.0 782.4,1024.5 783.9,1025.0 785.3,1025.5 786.7,1026.0 788.2,1026.5 789.6,1027.1 791.0,1027.8 792.5,1028.4 793.9,1029.0 795.3,1029.6 796.7,1030.1 798.2,1030.6 799.6,1031.2 801.0,1031.7 802.4,1032.2 803.9,1032.5 805.3,1032.8 806.7,1033.1 808.2,1033.4 809.6,1033.7 811.0,1034.1 812.4,1034.5 813.8,1034.9 815.2,1035.4 816.6,1035.8 818.0,1036.2 819.5,1036.6 820.9,1036.9 822.4,1037.2 823.9,1037.6 825.4,1038.0 826.9,1038.3 828.4,1038.6 829.9,1038.9 831.5,1039.1 833.0,1039.3 834.5,1039.6 836.1,1039.8 837.6,1040.0 839.2,1040.2 840.7,1040.3 842.3,1040.4 843.8,1040.5 845.4,1040.6 846.9,1040.8 848.5,1041.1 850.0,1041.3 851.5,1041.6 853.0,1041.9 854.5,1042.1 856.1,1042.3 857.7,1042.4 859.4,1042.4 860.8,1042.4 862.3,1042.4 863.9,1042.5 865.5,1042.6 867.1,1042.7 868.7,1042.8 870.4,1042.8 872.0,1042.8 873.6,1042.8 875.1,1042.9 876.6,1043.0 878.0,1043.0 879.3,1043.1 880.9,1043.2 882.3,1043.4 883.7,1043.4 885.0,1043.4 886.3,1043.5 887.7,1043.6 889.2,1043.7 890.5,1043.8 891.8,1043.9 893.1,1044.0 894.5,1044.0 895.9,1044.1 897.3,1044.2 898.8,1044.4 900.3,1044.5 901.9,1044.5 903.5,1044.5 905.2,1044.5 906.5,1044.5 907.8,1044.6 909.2,1044.7 910.5,1044.7 912.0,1044.7 913.4,1044.7 914.9,1044.7 916.5,1044.7 918.0,1044.7 919.6,1044.6 921.1,1044.6 922.7,1044.5 924.4,1044.4 926.0,1044.4 927.6,1044.4 929.2,1044.4 930.9,1044.3 932.5,1044.3 934.1,1044.3 935.8,1044.3 937.4,1044.4 939.0,1044.5 940.5,1044.5 942.1,1044.5 943.6,1044.4 945.1,1044.4 946.7,1044.4 948.2,1044.5 949.8,1044.6 951.4,1044.5 952.9,1044.4 954.5,1044.4 956.1,1044.4 957.6,1044.5 959.2,1044.5 960.8,1044.6 962.4,1044.6 964.0,1044.5 965.7,1044.4 967.3,1044.3 968.9,1044.3 970.6,1044.3 972.2,1044.4 973.9,1044.4 975.5,1044.5 977.2,1044.6 978.9,1044.5 980.4,1044.5 981.9,1044.5 983.5,1044.5 985.0,1044.6 986.5,1044.6 988.1,1044.7 989.7,1044.7 991.2,1044.8 992.8,1044.7 994.4,1044.7 996.0,1044.6 997.6,1044.6 999.2,1044.5 1000.9,1044.5 1002.5,1044.5 1004.1,1044.5 1005.7,1044.5 1007.3,1044.5 1009.0,1044.6 1010.6,1044.7 1012.2,1044.7 1013.9,1044.6 1015.5,1044.6 1017.1,1044.5 1018.7,1044.4 1020.4,1044.4 1022.0,1044.5 1023.6,1044.5 1025.2,1044.6 1026.8,1044.6 1028.4,1044.6 1030.0,1044.5 1031.6,1044.5 1033.2,1044.5 1034.8,1044.5 1036.4,1044.5 1038.0,1044.5 1039.7,1044.5 1041.4,1044.5 1043.0,1044.5 1044.7,1044.5 1046.4,1044.6 1048.0,1044.6 1049.7,1044.7 1051.4,1044.8 1053.0,1044.7 1054.7,1044.6 1056.3,1044.6 1058.0,1044.5 1059.6,1044.6 1061.2,1044.7 1062.8,1044.7 1064.4,1044.6 1065.9,1044.6 1067.4,1044.5 1068.9,1044.4 1070.4,1044.4 1071.9,1044.4 1073.3,1044.3 1074.7,1044.1 1076.0,1044.1 1077.3,1044.0 1078.6,1043.9 1079.8,1043.9 1081.6,1043.9 1083.3,1043.9 1084.9,1044.0 1086.5,1043.8 1087.9,1043.7 1089.4,1043.5 1090.8,1043.4 1092.2,1043.3 1093.6,1043.1 1095.0,1043.0 1096.5,1042.9 1098.1,1042.7 1099.7,1042.6 1101.1,1042.6 1102.6,1042.5 1104.1,1042.5 1105.5,1042.4 1107.1,1042.3 1108.6,1042.3 1110.2,1042.0 1111.7,1041.8 1113.3,1041.7 1114.9,1041.7 1116.5,1041.6 1118.1,1041.4 1119.7,1041.2 1121.4,1041.0 1123.0,1040.9 1124.7,1041.0 1126.3,1041.0 1128.0,1041.0 1129.6,1040.9 1131.1,1040.8 1132.6,1040.7 1134.2,1040.6 1135.7,1040.4 1137.3,1040.3 1138.9,1040.2 1140.5,1040.0 1142.1,1039.9 1143.7,1039.9 1145.4,1039.9 1147.0,1039.9 1148.6,1039.9 1150.2,1039.8 1151.8,1039.7 1153.4,1039.7 1155.0,1039.7 1156.6,1039.7 1158.1,1039.7 1159.6,1039.7 1161.2,1039.8 1162.6,1039.8 1164.1,1039.7 1165.5,1039.6 1167.2,1039.5 1168.9,1039.4 1170.6,1039.4 1172.3,1039.4 1173.9,1039.5 1175.5,1039.7 1177.1,1039.8 1178.7,1039.9 1180.2,1040.0 1181.8,1040.1 1183.3,1040.2 1184.8,1040.3 1186.4,1040.4 1187.9,1040.5 1189.4,1040.7 1191.0,1040.9 1192.6,1041.0 1194.1,1041.2 1195.7,1041.3 1197.2,1041.4 1198.7,1041.5 1200.2,1041.6 1201.7,1041.7 1203.2,1041.7 1204.7,1042.0 1206.3,1042.2 1207.8,1042.3 1209.3,1042.5 1210.8,1042.7 1212.3,1042.9 1213.8,1043.0 1215.3,1043.1 1216.8,1043.2 1218.2,1043.4 1219.7,1043.5 1221.2,1043.6 1222.8,1043.7 1224.3,1043.8 1225.9,1043.8 1227.5,1043.9 1229.2,1044.1 1230.6,1044.2 1231.9,1044.4 1233.3,1044.5 1234.7,1044.5 1236.1,1044.6 1237.5,1044.6 1238.9,1044.7 1240.3,1044.8 1241.8,1044.8 1243.3,1044.9 1244.8,1044.9 1246.3,1044.9 1247.9,1045.0 1249.5,1045.1 1251.1,1045.2 1252.8,1045.2 1254.5,1045.3 1256.3,1045.3 1258.1,1045.3 1260.0,1045.4 1261.2,1045.4 1262.5,1045.4 1263.7,1045.4 1265.1,1045.4 1266.4,1045.3 1267.8,1045.3 1269.2,1045.4 1270.6,1045.4 1272.0,1045.6 1273.5,1045.8 1275.0,1045.9 1276.5,1045.9 1278.0,1045.8 1279.6,1045.7 1281.1,1045.7 1282.7,1045.8 1284.3,1045.8 1285.9,1045.8 1287.6,1045.9 1289.2,1045.8 1290.8,1045.8 1292.5,1045.7 1294.2,1045.5 1295.8,1045.4 1297.5,1045.3 1299.2,1045.3 1300.9,1045.4 1302.6,1045.5 1304.3,1045.6 1306.0,1045.7 1307.7,1045.8 1309.4,1045.8 1311.1,1045.8 1312.8,1045.7 1314.5,1045.6 1316.2,1045.6 1317.8,1045.6 1319.5,1045.7 1321.2,1045.8 1322.8,1045.8 1324.5,1045.8 1326.1,1045.7 1327.7,1045.5 1329.3,1045.5 1330.9,1045.5 1332.5,1045.5 1334.0,1045.5 1335.5,1045.5 1337.0,1045.5 1338.5,1045.4 1340.0,1045.4 1341.7,1045.4 1343.4,1045.4 1345.1,1045.4 1346.8,1045.4 1348.5,1045.4 1350.2,1045.3 1351.9,1045.3 1353.6,1045.4 1355.4,1045.5 1357.1,1045.6 1358.8,1045.7 1360.5,1045.7 1362.2,1045.7 1363.8,1045.7 1365.5,1045.7 1367.2,1045.7 1368.9,1045.7 1370.5,1045.7 1372.2,1045.7 1373.8,1045.8 1375.4,1045.8 1377.0,1045.7 1378.6,1045.6 1380.2,1045.6 1381.7,1045.6 1383.3,1045.7 1384.8,1045.7 1386.3,1045.7 1387.8,1045.6 1389.2,1045.5 1390.7,1045.4 1392.1,1045.3 1393.5,1045.3 1394.8,1045.3 1396.2,1045.3 1397.5,1045.3 1398.7,1045.3 1400.0,1045.3 1401.8,1045.3 1403.5,1045.3 1405.2,1045.3 1406.7,1045.3 1408.2,1045.3 1409.6,1045.3 1411.0,1045.2 1412.3,1045.2 1413.7,1045.1 1415.1,1045.0 1416.6,1044.9 1418.1,1044.8 1419.6,1044.8 1421.3,1044.8 1423.1,1044.9 1425.0,1044.9 1426.2,1044.9 1427.4,1044.9 1428.7,1044.9 1430.0,1044.8 1431.4,1044.6 1432.8,1044.5 1434.3,1044.5 1435.8,1044.5 1437.3,1044.6 1438.9,1044.6 1440.5,1044.5 1442.1,1044.4 1443.8,1044.4 1445.5,1044.5 1447.2,1044.5 1448.9,1044.5 1450.6,1044.5 1452.4,1044.4 1454.1,1044.4 1455.9,1044.3 1457.7,1044.4 1459.5,1044.4 1461.3,1044.3 1463.0,1044.4 1464.8,1044.5 1466.6,1044.5 1468.4,1044.5 1470.2,1044.5 1471.9,1044.5 1473.7,1044.5 1475.4,1044.5 1477.2,1044.5 1478.9,1044.5 1480.5,1044.5 1482.2,1044.5 1483.8,1044.5 1485.4,1044.5 1487.0,1044.5 1488.5,1044.4 1490.0,1044.4 1491.5,1044.4 1492.9,1044.3 1494.3,1044.3 1495.7,1044.2 1497.0,1044.1 1498.2,1044.1 1499.4,1044.1 1501.2,1044.0 1503.0,1044.0 1504.7,1043.9 1506.3,1043.9 1507.8,1043.8 1509.3,1043.8 1510.7,1043.7 1512.1,1043.7 1513.5,1043.7 1514.8,1043.8 1516.2,1043.8 1517.6,1043.7 1519.0,1043.7 1520.4,1043.6 1521.9,1043.5 1523.4,1043.4 1525.0,1043.4 1526.5,1043.4 1527.9,1043.4 1529.4,1043.4 1530.8,1043.5 1532.3,1043.5 1533.7,1043.5 1535.2,1043.2 1536.6,1043.0 1538.1,1043.0 1539.6,1042.9 1541.1,1042.9 1542.7,1042.9 1544.3,1042.9 1545.8,1043.0 1547.5,1043.0 1549.1,1042.9 1550.8,1042.9 1552.6,1042.9 1554.4,1042.8 1556.2,1042.8 1558.1,1042.8 1560.0,1042.7 1561.2,1042.6 1562.5,1042.4 1563.8,1042.2 1565.0,1042.3 1566.4,1042.3 1567.7,1042.4 1569.1,1042.4 1570.5,1042.5 1571.9,1042.5 1573.3,1042.5 1574.7,1042.5 1576.2,1042.6 1577.7,1042.7 1579.2,1042.7 1580.7,1042.7 1582.2,1042.6 1583.8,1042.4 1585.3,1042.4 1586.9,1042.5 1588.5,1042.5 1590.1,1042.7 1591.7,1042.8 1593.3,1042.8 1594.9,1042.9 1596.6,1042.8 1598.2,1042.8 1599.9,1042.7 1601.6,1042.6 1603.2,1042.5 1604.9,1042.5 1606.6,1042.5 1608.3,1042.5 1610.0,1042.5 1611.7,1042.5 1613.4,1042.5 1615.1,1042.5 1616.8,1042.5 1618.5,1042.5 1620.2,1042.5 1621.9,1042.5 1623.6,1042.5 1625.3,1042.6 1626.9,1042.7 1628.6,1042.8 1630.3,1042.7 1632.0,1042.7 1633.7,1042.7 1635.4,1042.7 1637.0,1042.6 1638.7,1042.5 1640.3,1042.5 1642.0,1042.4 1643.6,1042.4 1645.2,1042.3 1646.8,1042.4 1648.4,1042.5 1650.0,1042.6" stroke="#9000ff"/>
</g>
<g class="axis">
<text transform="translate(299.05,1237.8) scale(0.956,1)" text-anchor="middle">2</text>
<text transform="translate(635.2,1237.8) scale(0.914,1)" text-anchor="middle">4</text>
<text transform="translate(973.4,1237.8) scale(0.973,1)" text-anchor="middle">6</text>
<text transform="translate(1310.0,1237.8) scale(0.919,1)" text-anchor="middle">8</text>
<text transform="translate(1648.6,1237.8) scale(0.911,1)" text-anchor="middle">10</text>
<text class="xlab" transform="translate(765.7,1360.8) scale(0.9715,1)">2theta<tspan font-size="65.0px" dx="0.3" dy="-0.4">(</tspan><tspan font-size="41.4px" stroke-width="0.2" dx="0.5" dy="-35.6">0</tspan><tspan font-size="65.0px" dx="0.5" dy="35.6">)</tspan></text>
<text class="ylab" transform="translate(76.8,802) rotate(-90) scale(0.9667,1)">Intensity<tspan font-size="65.0px" dx="0.5" dy="-0.4">(</tspan><tspan dx="0.5" dy="0.4">a.u</tspan><tspan font-size="65.0px" dx="0.7" dy="-0.4">)</tspan></text>
</g>
<g class="legend">
<text transform="translate(907.2,557) scale(0.9031,1)">PLA/EUG/OMMT <tspan font-size="60px" dx="0.7" dy="0">(</tspan><tspan dx="0.6">85/15/1</tspan><tspan font-size="60px" dx="1.2" dy="0">)</tspan></text>
<text transform="translate(910.07,719) scale(0.9031,1)">PLA/EUG/OMMT <tspan font-size="60px" dx="0.7" dy="0">(</tspan><tspan dx="0.6">85/15/2</tspan><tspan font-size="60px" dx="1.2" dy="0">)</tspan></text>
<text transform="translate(912.13,864) scale(0.9031,1)">PLA/EUG/OMMT <tspan font-size="60px" dx="0.7" dy="0">(</tspan><tspan dx="0.6">85/15/4</tspan><tspan font-size="60px" dx="1.2" dy="0">)</tspan></text>
<text transform="translate(915.16,1011) scale(0.9031,1)">PLA/EUG/OMMT <tspan font-size="60px" dx="0.7" dy="0">(</tspan><tspan dx="0.6">85/15/6</tspan><tspan font-size="60px" dx="1.2" dy="0">)</tspan></text>
</g>
</svg>
</body>
</html>
